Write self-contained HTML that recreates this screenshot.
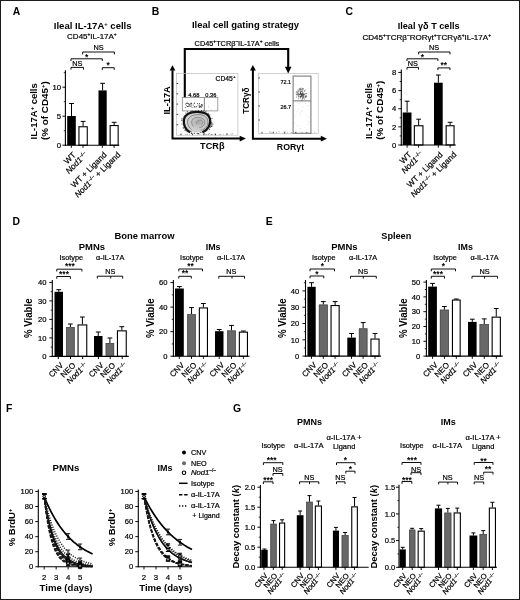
<!DOCTYPE html>
<html><head><meta charset="utf-8"><style>
html,body{margin:0;padding:0;background:#fff;}
svg{display:block;font-family:"Liberation Sans",sans-serif;filter:grayscale(1);}
text:not([font-weight]){stroke:#000;stroke-width:0.2px;}
</style></head><body>
<svg width="520" height="600" viewBox="0 0 520 600" font-family="Liberation Sans, sans-serif">
<rect x="0" y="0" width="520" height="600" fill="#fff"/>
<rect x="0.5" y="0.5" width="519" height="599" fill="none" stroke="#1c1c1c" stroke-width="1"/>
<text x="12.80" y="14.60" font-size="10.4" font-weight="bold" >A</text>
<text x="151.80" y="14.60" font-size="10.4" font-weight="bold" >B</text>
<text x="345.60" y="14.60" font-size="10.4" font-weight="bold" >C</text>
<text x="12.40" y="225.00" font-size="10.4" font-weight="bold" >D</text>
<text x="265.80" y="225.00" font-size="10.4" font-weight="bold" >E</text>
<text x="6.00" y="411.80" font-size="10.4" font-weight="bold" >F</text>
<text x="233.00" y="411.60" font-size="10.4" font-weight="bold" >G</text>
<text x="53.80" y="28.50" font-size="9.3" font-weight="bold" textLength="77.8" lengthAdjust="spacingAndGlyphs" >Ileal IL-17A<tspan font-size="5.6" baseline-shift="3.4">+</tspan> cells</text>
<text x="67.10" y="38.90" font-size="7.6" textLength="49.6" lengthAdjust="spacingAndGlyphs" >CD45<tspan font-size="4.6" baseline-shift="2.8">+</tspan>IL-17A<tspan font-size="4.6" baseline-shift="2.8">+</tspan></text>
<path d="M82.70 54.40V52.00H114.40V54.40" stroke="#000" stroke-width="0.95" fill="none" />
<text x="98.60" y="50.00" font-size="7.3" text-anchor="middle" >NS</text>
<path d="M71.00 61.00V58.80H102.30V61.00" stroke="#000" stroke-width="0.95" fill="none" />
<text x="86.60" y="59.67" font-size="8.4" font-weight="bold" text-anchor="middle" >*</text>
<path d="M71.00 69.60V67.40H83.50V69.60" stroke="#000" stroke-width="0.95" fill="none" />
<text x="77.30" y="66.00" font-size="7.3" text-anchor="middle" >NS</text>
<path d="M102.30 69.90V67.70H114.20V69.90" stroke="#000" stroke-width="0.95" fill="none" />
<text x="108.20" y="68.37" font-size="8.4" font-weight="bold" text-anchor="middle" >*</text>
<line x1="65.40" y1="70.30" x2="65.40" y2="145.75" stroke="#000" stroke-width="1.1" />
<line x1="62.40" y1="145.20" x2="65.40" y2="145.20" stroke="#000" stroke-width="0.95" />
<line x1="62.40" y1="116.20" x2="65.40" y2="116.20" stroke="#000" stroke-width="0.95" />
<line x1="62.40" y1="87.20" x2="65.40" y2="87.20" stroke="#000" stroke-width="0.95" />
<line x1="63.80" y1="130.70" x2="65.40" y2="130.70" stroke="#000" stroke-width="0.8" />
<line x1="63.80" y1="101.70" x2="65.40" y2="101.70" stroke="#000" stroke-width="0.8" />
<line x1="63.80" y1="72.70" x2="65.40" y2="72.70" stroke="#000" stroke-width="0.8" />
<text x="61.10" y="148.01" font-size="7.8" text-anchor="end" >0</text>
<text x="61.10" y="119.01" font-size="7.8" text-anchor="end" >5</text>
<text x="61.10" y="90.01" font-size="7.8" text-anchor="end" >10</text>
<line x1="71.50" y1="116.00" x2="71.50" y2="103.50" stroke="#000" stroke-width="1.0" />
<line x1="69.10" y1="103.50" x2="73.90" y2="103.50" stroke="#000" stroke-width="1.0" />
<rect x="67.20" y="116.00" width="8.60" height="29.20" fill="#000"/>
<line x1="83.10" y1="126.20" x2="83.10" y2="121.40" stroke="#000" stroke-width="1.0" />
<line x1="80.70" y1="121.40" x2="85.50" y2="121.40" stroke="#000" stroke-width="1.0" />
<rect x="78.95" y="126.75" width="8.30" height="18.45" fill="#fff" stroke="#000" stroke-width="1.1"/>
<line x1="102.60" y1="90.40" x2="102.60" y2="83.30" stroke="#000" stroke-width="1.0" />
<line x1="100.20" y1="83.30" x2="105.00" y2="83.30" stroke="#000" stroke-width="1.0" />
<rect x="98.50" y="90.40" width="8.20" height="54.80" fill="#000"/>
<line x1="114.15" y1="125.00" x2="114.15" y2="122.30" stroke="#000" stroke-width="1.0" />
<line x1="111.75" y1="122.30" x2="116.55" y2="122.30" stroke="#000" stroke-width="1.0" />
<rect x="110.15" y="125.55" width="8.00" height="19.65" fill="#fff" stroke="#000" stroke-width="1.1"/>
<line x1="64.85" y1="145.20" x2="119.30" y2="145.20" stroke="#000" stroke-width="1.1" />
<line x1="71.30" y1="145.20" x2="71.30" y2="147.90" stroke="#000" stroke-width="0.95" />
<line x1="83.00" y1="145.20" x2="83.00" y2="147.90" stroke="#000" stroke-width="0.95" />
<line x1="102.30" y1="145.20" x2="102.30" y2="147.90" stroke="#000" stroke-width="0.95" />
<line x1="114.10" y1="145.20" x2="114.10" y2="147.90" stroke="#000" stroke-width="0.95" />
<text x="76.20" y="155.40" font-size="8.2" text-anchor="end" transform="rotate(-45 76.20 155.40)" >WT</text>
<text x="87.90" y="155.40" font-size="8.2" text-anchor="end" transform="rotate(-45 87.90 155.40)" ><tspan font-style="italic">Nod1</tspan><tspan font-size="5.08" baseline-shift="3.44">–/–</tspan></text>
<text x="107.20" y="155.40" font-size="8.2" text-anchor="end" transform="rotate(-45 107.20 155.40)" >WT + Ligand</text>
<text x="120.90" y="155.20" font-size="8.2" text-anchor="end" transform="rotate(-45 120.90 155.20)" ><tspan font-style="italic">Nod1</tspan><tspan font-size="5.08" baseline-shift="3.44">–/–</tspan> + Ligand</text>
<text x="37.20" y="111.30" font-size="9.3" font-weight="bold" text-anchor="middle" transform="rotate(-90 37.20 111.30)" textLength="56.2" lengthAdjust="spacingAndGlyphs" >IL-17A<tspan font-size="5.6" baseline-shift="3.4">+</tspan> cells</text>
<text x="48.50" y="110.60" font-size="9.3" font-weight="bold" text-anchor="middle" transform="rotate(-90 48.50 110.60)" textLength="59.0" lengthAdjust="spacingAndGlyphs" >(% of CD45<tspan font-size="5.6" baseline-shift="3.4">+</tspan>)</text>
<text x="397.70" y="28.60" font-size="9.3" font-weight="bold" textLength="61.9" lengthAdjust="spacingAndGlyphs" >Ileal γδ T cells</text>
<text x="362.40" y="39.50" font-size="7.7" textLength="128.6" lengthAdjust="spacingAndGlyphs" >CD45<tspan font-size="4.6" baseline-shift="2.8">+</tspan>TCRβ<tspan font-size="4.6" baseline-shift="2.8">–</tspan>RORγt<tspan font-size="4.6" baseline-shift="2.8">+</tspan>TCRγδ<tspan font-size="4.6" baseline-shift="2.8">+</tspan>IL-17A<tspan font-size="4.6" baseline-shift="2.8">+</tspan></text>
<path d="M418.70 54.40V52.00H450.00V54.40" stroke="#000" stroke-width="0.95" fill="none" />
<text x="434.00" y="49.80" font-size="7.3" text-anchor="middle" >NS</text>
<path d="M407.00 61.00V58.80H437.90V61.00" stroke="#000" stroke-width="0.95" fill="none" />
<text x="422.50" y="59.67" font-size="8.4" font-weight="bold" text-anchor="middle" >*</text>
<path d="M407.00 69.60V67.40H418.50V69.60" stroke="#000" stroke-width="0.95" fill="none" />
<text x="412.90" y="66.00" font-size="7.3" text-anchor="middle" >NS</text>
<path d="M437.90 70.10V67.90H450.00V70.10" stroke="#000" stroke-width="0.95" fill="none" />
<text x="443.70" y="68.37" font-size="8.4" font-weight="bold" text-anchor="middle" >**</text>
<line x1="401.30" y1="69.60" x2="401.30" y2="145.55" stroke="#000" stroke-width="1.1" />
<line x1="398.30" y1="145.00" x2="401.30" y2="145.00" stroke="#000" stroke-width="0.95" />
<line x1="398.30" y1="126.86" x2="401.30" y2="126.86" stroke="#000" stroke-width="0.95" />
<line x1="398.30" y1="108.72" x2="401.30" y2="108.72" stroke="#000" stroke-width="0.95" />
<line x1="398.30" y1="90.58" x2="401.30" y2="90.58" stroke="#000" stroke-width="0.95" />
<line x1="398.30" y1="72.44" x2="401.30" y2="72.44" stroke="#000" stroke-width="0.95" />
<line x1="399.70" y1="135.93" x2="401.30" y2="135.93" stroke="#000" stroke-width="0.8" />
<line x1="399.70" y1="117.79" x2="401.30" y2="117.79" stroke="#000" stroke-width="0.8" />
<line x1="399.70" y1="99.65" x2="401.30" y2="99.65" stroke="#000" stroke-width="0.8" />
<line x1="399.70" y1="81.51" x2="401.30" y2="81.51" stroke="#000" stroke-width="0.8" />
<text x="396.30" y="147.74" font-size="7.6" text-anchor="end" >0</text>
<text x="396.30" y="129.60" font-size="7.6" text-anchor="end" >2</text>
<text x="396.30" y="111.46" font-size="7.6" text-anchor="end" >4</text>
<text x="396.30" y="93.32" font-size="7.6" text-anchor="end" >6</text>
<text x="396.30" y="75.18" font-size="7.6" text-anchor="end" >8</text>
<line x1="407.10" y1="112.50" x2="407.10" y2="101.20" stroke="#000" stroke-width="1.0" />
<line x1="404.70" y1="101.20" x2="409.50" y2="101.20" stroke="#000" stroke-width="1.0" />
<rect x="402.70" y="112.50" width="8.80" height="32.50" fill="#000"/>
<line x1="418.65" y1="125.20" x2="418.65" y2="119.20" stroke="#000" stroke-width="1.0" />
<line x1="416.25" y1="119.20" x2="421.05" y2="119.20" stroke="#000" stroke-width="1.0" />
<rect x="414.35" y="125.75" width="8.60" height="19.25" fill="#fff" stroke="#000" stroke-width="1.1"/>
<line x1="438.35" y1="82.70" x2="438.35" y2="75.00" stroke="#000" stroke-width="1.0" />
<line x1="435.95" y1="75.00" x2="440.75" y2="75.00" stroke="#000" stroke-width="1.0" />
<rect x="434.00" y="82.70" width="8.70" height="62.30" fill="#000"/>
<line x1="450.10" y1="125.20" x2="450.10" y2="122.30" stroke="#000" stroke-width="1.0" />
<line x1="447.70" y1="122.30" x2="452.50" y2="122.30" stroke="#000" stroke-width="1.0" />
<rect x="446.15" y="125.75" width="7.90" height="19.25" fill="#fff" stroke="#000" stroke-width="1.1"/>
<line x1="400.75" y1="145.00" x2="455.80" y2="145.00" stroke="#000" stroke-width="1.1" />
<line x1="407.10" y1="145.00" x2="407.10" y2="147.70" stroke="#000" stroke-width="0.95" />
<line x1="418.60" y1="145.00" x2="418.60" y2="147.70" stroke="#000" stroke-width="0.95" />
<line x1="438.30" y1="145.00" x2="438.30" y2="147.70" stroke="#000" stroke-width="0.95" />
<line x1="450.10" y1="145.00" x2="450.10" y2="147.70" stroke="#000" stroke-width="0.95" />
<text x="412.00" y="155.20" font-size="8.2" text-anchor="end" transform="rotate(-45 412.00 155.20)" >WT</text>
<text x="423.50" y="155.20" font-size="8.2" text-anchor="end" transform="rotate(-45 423.50 155.20)" ><tspan font-style="italic">Nod1</tspan><tspan font-size="5.08" baseline-shift="3.44">–/–</tspan></text>
<text x="443.20" y="155.20" font-size="8.2" text-anchor="end" transform="rotate(-45 443.20 155.20)" >WT + Ligand</text>
<text x="456.90" y="155.00" font-size="8.2" text-anchor="end" transform="rotate(-45 456.90 155.00)" ><tspan font-style="italic">Nod1</tspan><tspan font-size="5.08" baseline-shift="3.44">–/–</tspan> + Ligand</text>
<text x="372.20" y="111.00" font-size="9.3" font-weight="bold" text-anchor="middle" transform="rotate(-90 372.20 111.00)" textLength="56.2" lengthAdjust="spacingAndGlyphs" >IL-17A<tspan font-size="5.6" baseline-shift="3.4">+</tspan> cells</text>
<text x="383.50" y="110.30" font-size="9.3" font-weight="bold" text-anchor="middle" transform="rotate(-90 383.50 110.30)" textLength="59.0" lengthAdjust="spacingAndGlyphs" >(% of CD45<tspan font-size="5.6" baseline-shift="3.4">+</tspan>)</text>
<text x="191.90" y="28.40" font-size="9.3" font-weight="bold" textLength="107.2" lengthAdjust="spacingAndGlyphs" >Ileal cell gating strategy</text>
<text x="194.60" y="45.60" font-size="7.0" textLength="84.6" lengthAdjust="spacingAndGlyphs" >CD45<tspan font-size="4.6" baseline-shift="2.8">+</tspan>TCRβ<tspan font-size="4.6" baseline-shift="2.8">–</tspan>IL-17A<tspan font-size="4.6" baseline-shift="2.8">+</tspan> cells</text>
<path d="M184.8 97.6V49H288.2V67.5" stroke="#000" stroke-width="2.1" fill="none" stroke-linejoin="miter" stroke-linecap="butt"/>
<path d="M284.9 66.8L291.5 66.8L288.2 73.4Z" stroke="#000" stroke-width="0" fill="#000" />
<path d="M172.5 70.2V138.6H240.9" stroke="#000" stroke-width="2.0" fill="none" stroke-linejoin="miter"/>
<path d="M169.6 70.60000000000001L172.5 65.2L175.4 70.60000000000001Z" stroke="#000" stroke-width="0" fill="#000" />
<path d="M239.70000000000002 135.7L245.9 138.6L239.70000000000002 141.5Z" stroke="#000" stroke-width="0" fill="#000" />
<path d="M252.9 70.0V138.7H322.0" stroke="#000" stroke-width="2.0" fill="none" stroke-linejoin="miter"/>
<path d="M250.0 70.4L252.9 65.0L255.8 70.4Z" stroke="#000" stroke-width="0" fill="#000" />
<path d="M320.8 135.79999999999998L327.0 138.7L320.8 141.6Z" stroke="#000" stroke-width="0" fill="#000" />
<rect x="176.50" y="73.40" width="61.40" height="61.80" fill="none" stroke="#bdbdbd" stroke-width="0.7"/>
<rect x="258.40" y="73.40" width="59.80" height="60.00" fill="none" stroke="#bdbdbd" stroke-width="0.7"/>
<line x1="176.50" y1="83.50" x2="178.20" y2="83.50" stroke="#333" stroke-width="0.9" />
<line x1="258.40" y1="78.00" x2="260.00" y2="78.00" stroke="#333" stroke-width="0.9" />
<line x1="176.50" y1="93.80" x2="178.20" y2="93.80" stroke="#333" stroke-width="0.9" />
<line x1="258.40" y1="92.00" x2="260.00" y2="92.00" stroke="#333" stroke-width="0.9" />
<line x1="176.50" y1="104.10" x2="178.20" y2="104.10" stroke="#333" stroke-width="0.9" />
<line x1="258.40" y1="106.00" x2="260.00" y2="106.00" stroke="#333" stroke-width="0.9" />
<line x1="176.50" y1="114.40" x2="178.20" y2="114.40" stroke="#333" stroke-width="0.9" />
<line x1="258.40" y1="120.00" x2="260.00" y2="120.00" stroke="#333" stroke-width="0.9" />
<line x1="176.50" y1="124.70" x2="178.20" y2="124.70" stroke="#333" stroke-width="0.9" />
<line x1="181.00" y1="135.20" x2="181.00" y2="133.60" stroke="#333" stroke-width="0.9" />
<line x1="262.00" y1="133.40" x2="262.00" y2="131.80" stroke="#333" stroke-width="0.9" />
<line x1="192.50" y1="135.20" x2="192.50" y2="133.60" stroke="#333" stroke-width="0.9" />
<line x1="273.20" y1="133.40" x2="273.20" y2="131.80" stroke="#333" stroke-width="0.9" />
<line x1="204.00" y1="135.20" x2="204.00" y2="133.60" stroke="#333" stroke-width="0.9" />
<line x1="284.40" y1="133.40" x2="284.40" y2="131.80" stroke="#333" stroke-width="0.9" />
<line x1="215.50" y1="135.20" x2="215.50" y2="133.60" stroke="#333" stroke-width="0.9" />
<line x1="295.60" y1="133.40" x2="295.60" y2="131.80" stroke="#333" stroke-width="0.9" />
<line x1="227.00" y1="135.20" x2="227.00" y2="133.60" stroke="#333" stroke-width="0.9" />
<line x1="306.80" y1="133.40" x2="306.80" y2="131.80" stroke="#333" stroke-width="0.9" />
<text x="169.90" y="100.40" font-size="9.3" font-weight="bold" text-anchor="middle" transform="rotate(-90 169.90 100.40)" textLength="28.3" lengthAdjust="spacingAndGlyphs" >IL-17A</text>
<text x="212.30" y="149.00" font-size="9.3" font-weight="bold" text-anchor="middle" textLength="24.4" lengthAdjust="spacingAndGlyphs" >TCRβ</text>
<text x="248.60" y="100.70" font-size="9.3" font-weight="bold" text-anchor="middle" transform="rotate(-90 248.60 100.70)" textLength="26.3" lengthAdjust="spacingAndGlyphs" >TCRγδ</text>
<text x="290.50" y="149.70" font-size="9.3" font-weight="bold" text-anchor="middle" textLength="27.3" lengthAdjust="spacingAndGlyphs" >RORγt</text>
<text x="235.40" y="80.80" font-size="6.8" text-anchor="end" textLength="19.8" lengthAdjust="spacingAndGlyphs" >CD45<tspan font-size="4.3" baseline-shift="2.6">+</tspan></text>
<text x="193.80" y="96.50" font-size="5.9" text-anchor="middle" textLength="11.3" lengthAdjust="spacingAndGlyphs" >4.68</text>
<text x="210.80" y="96.50" font-size="5.9" text-anchor="middle" textLength="11.0" lengthAdjust="spacingAndGlyphs" >0.36</text>
<rect x="182.30" y="97.50" width="22.00" height="13.40" fill="none" stroke="#8a8a8a" stroke-width="0.8"/>
<rect x="204.30" y="97.50" width="13.50" height="13.40" fill="none" stroke="#8a8a8a" stroke-width="0.8"/>
<text x="285.70" y="84.10" font-size="5.9" text-anchor="middle" textLength="10.6" lengthAdjust="spacingAndGlyphs" >72.1</text>
<text x="285.70" y="109.00" font-size="5.9" text-anchor="middle" textLength="10.6" lengthAdjust="spacingAndGlyphs" >26.7</text>
<rect x="293.10" y="76.10" width="17.80" height="57.20" fill="none" stroke="#858585" stroke-width="1.2"/>
<line x1="293.10" y1="100.90" x2="310.90" y2="100.90" stroke="#707070" stroke-width="1.0" />
<defs><radialGradient id="bg" cx="0.55" cy="0.5" r="0.6"><stop offset="0" stop-color="#a8a8a8"/><stop offset="0.35" stop-color="#c2c2c2"/><stop offset="1" stop-color="#dcdcdc"/></radialGradient></defs>
<path d="M190.0 132.4C185.3 129.8 183.0 124.2 184.0 119.4C185.0 114.6 189.6 112.0 196.8 111.9C203.8 111.8 208.8 114.0 210.0 118.8C211.3 124.0 208.3 129.6 202.4 132.4" stroke="#111" stroke-width="2.2" fill="url(#bg)" />
<path d="M191.5 129.5C187.5 126.5 186.5 121.5 188.8 118C191 115 196 114.4 199.5 114.6C204.5 115 207.6 117.6 207.9 121.5C208.2 125.8 205.5 129.3 200.8 130.3" stroke="#555" stroke-width="0.6" fill="none" />
<path d="M193.6 126.5C190.8 123.8 191.1 119.6 194.6 118C198.1 116.6 202.8 117.6 204.4 120.5C205.6 123.5 203.5 127 199.4 127.6" stroke="#666" stroke-width="0.6" fill="none" />
<path d="M196.5 123.8C196 121.5 198.2 119.8 201 120.3C203.5 121 203.5 123.6 201 124.6" stroke="#777" stroke-width="0.6" fill="none" />
<circle cx="191.0" cy="131.7" r="0.5" fill="#222"/>
<circle cx="189.3" cy="113.3" r="0.5" fill="#222"/>
<circle cx="183.1" cy="119.5" r="0.5" fill="#222"/>
<circle cx="211.1" cy="126.2" r="0.5" fill="#222"/>
<circle cx="211.5" cy="124.7" r="0.5" fill="#222"/>
<circle cx="209.6" cy="126.6" r="0.5" fill="#222"/>
<circle cx="183.1" cy="127.7" r="0.5" fill="#222"/>
<circle cx="207.2" cy="129.7" r="0.5" fill="#222"/>
<circle cx="185.9" cy="112.9" r="0.5" fill="#222"/>
<circle cx="184.3" cy="116.7" r="0.5" fill="#222"/>
<circle cx="210.6" cy="120.4" r="0.5" fill="#222"/>
<circle cx="206.2" cy="113.3" r="0.5" fill="#222"/>
<circle cx="205.7" cy="130.5" r="0.5" fill="#222"/>
<circle cx="191.5" cy="133.6" r="0.5" fill="#222"/>
<circle cx="203.6" cy="132.7" r="0.5" fill="#222"/>
<circle cx="187.9" cy="113.3" r="0.5" fill="#222"/>
<circle cx="184.2" cy="118.9" r="0.5" fill="#222"/>
<circle cx="210.2" cy="126.0" r="0.5" fill="#222"/>
<circle cx="191.0" cy="111.6" r="0.5" fill="#222"/>
<circle cx="191.3" cy="132.9" r="0.5" fill="#222"/>
<circle cx="183.5" cy="125.2" r="0.5" fill="#222"/>
<circle cx="201.5" cy="110.4" r="0.5" fill="#222"/>
<circle cx="197.8" cy="133.8" r="0.5" fill="#222"/>
<circle cx="181.4" cy="120.0" r="0.5" fill="#222"/>
<circle cx="195.4" cy="110.9" r="0.5" fill="#222"/>
<circle cx="210.8" cy="120.7" r="0.5" fill="#222"/>
<circle cx="183.6" cy="128.0" r="0.5" fill="#222"/>
<circle cx="205.8" cy="131.5" r="0.5" fill="#222"/>
<circle cx="212.1" cy="124.9" r="0.5" fill="#222"/>
<circle cx="198.6" cy="110.2" r="0.5" fill="#222"/>
<circle cx="207.4" cy="114.1" r="0.5" fill="#222"/>
<circle cx="192.1" cy="110.8" r="0.5" fill="#222"/>
<circle cx="184.3" cy="116.4" r="0.5" fill="#222"/>
<circle cx="205.9" cy="111.3" r="0.5" fill="#222"/>
<circle cx="182.0" cy="123.9" r="0.5" fill="#222"/>
<circle cx="211.6" cy="126.5" r="0.5" fill="#222"/>
<circle cx="187.4" cy="111.8" r="0.5" fill="#222"/>
<circle cx="203.4" cy="112.0" r="0.5" fill="#222"/>
<circle cx="185.6" cy="129.9" r="0.5" fill="#222"/>
<circle cx="211.8" cy="123.6" r="0.5" fill="#222"/>
<circle cx="204.0" cy="131.4" r="0.5" fill="#222"/>
<circle cx="211.8" cy="126.4" r="0.5" fill="#222"/>
<circle cx="206.9" cy="130.0" r="0.5" fill="#222"/>
<circle cx="184.8" cy="129.9" r="0.5" fill="#222"/>
<circle cx="210.1" cy="127.6" r="0.5" fill="#222"/>
<circle cx="182.0" cy="118.2" r="0.5" fill="#222"/>
<circle cx="203.9" cy="110.7" r="0.5" fill="#222"/>
<circle cx="194.6" cy="133.3" r="0.5" fill="#222"/>
<circle cx="187.1" cy="131.7" r="0.5" fill="#222"/>
<circle cx="210.6" cy="119.2" r="0.5" fill="#222"/>
<circle cx="203.5" cy="131.9" r="0.5" fill="#222"/>
<circle cx="198.7" cy="133.6" r="0.5" fill="#222"/>
<circle cx="185.2" cy="116.1" r="0.5" fill="#222"/>
<circle cx="211.8" cy="122.3" r="0.5" fill="#222"/>
<circle cx="186.9" cy="130.6" r="0.5" fill="#222"/>
<circle cx="212.0" cy="118.5" r="0.5" fill="#222"/>
<circle cx="182.1" cy="120.8" r="0.5" fill="#222"/>
<circle cx="191.1" cy="112.5" r="0.5" fill="#222"/>
<circle cx="209.9" cy="114.7" r="0.5" fill="#222"/>
<circle cx="208.3" cy="113.2" r="0.5" fill="#222"/>
<circle cx="185.8" cy="129.1" r="0.5" fill="#222"/>
<circle cx="209.4" cy="129.2" r="0.5" fill="#222"/>
<circle cx="209.8" cy="126.1" r="0.5" fill="#222"/>
<circle cx="200.8" cy="132.5" r="0.5" fill="#222"/>
<circle cx="189.9" cy="131.0" r="0.5" fill="#222"/>
<circle cx="211.0" cy="122.0" r="0.5" fill="#222"/>
<circle cx="208.8" cy="128.7" r="0.5" fill="#222"/>
<circle cx="213.0" cy="124.0" r="0.5" fill="#222"/>
<circle cx="186.8" cy="114.9" r="0.5" fill="#222"/>
<circle cx="197.0" cy="133.3" r="0.5" fill="#222"/>
<circle cx="191.4" cy="103.4" r="0.5" fill="#333"/>
<circle cx="199.9" cy="107.4" r="0.5" fill="#333"/>
<circle cx="193.2" cy="105.0" r="0.5" fill="#333"/>
<circle cx="186.5" cy="103.3" r="0.5" fill="#333"/>
<circle cx="191.0" cy="104.0" r="0.5" fill="#333"/>
<circle cx="199.5" cy="103.5" r="0.5" fill="#333"/>
<circle cx="185.4" cy="107.2" r="0.5" fill="#333"/>
<circle cx="194.2" cy="103.5" r="0.5" fill="#333"/>
<circle cx="194.5" cy="102.9" r="0.5" fill="#333"/>
<circle cx="194.2" cy="107.3" r="0.5" fill="#333"/>
<circle cx="200.1" cy="106.0" r="0.5" fill="#333"/>
<circle cx="189.6" cy="104.5" r="0.5" fill="#333"/>
<circle cx="187.9" cy="106.4" r="0.5" fill="#333"/>
<circle cx="194.3" cy="106.4" r="0.5" fill="#333"/>
<circle cx="190.8" cy="103.8" r="0.5" fill="#333"/>
<circle cx="199.2" cy="107.3" r="0.5" fill="#333"/>
<circle cx="199.9" cy="106.5" r="0.5" fill="#333"/>
<circle cx="199.3" cy="106.2" r="0.5" fill="#333"/>
<circle cx="189.0" cy="105.2" r="0.5" fill="#333"/>
<circle cx="191.2" cy="102.9" r="0.5" fill="#333"/>
<circle cx="185.5" cy="104.1" r="0.5" fill="#333"/>
<circle cx="189.5" cy="106.0" r="0.5" fill="#333"/>
<circle cx="201.7" cy="104.9" r="0.5" fill="#333"/>
<circle cx="201.4" cy="107.3" r="0.5" fill="#333"/>
<circle cx="201.7" cy="104.5" r="0.5" fill="#333"/>
<circle cx="188.9" cy="103.8" r="0.5" fill="#333"/>
<circle cx="188.4" cy="103.7" r="0.5" fill="#333"/>
<circle cx="195.9" cy="106.9" r="0.5" fill="#333"/>
<circle cx="199.7" cy="105.0" r="0.5" fill="#333"/>
<circle cx="196.4" cy="106.5" r="0.5" fill="#333"/>
<circle cx="186.5" cy="105.8" r="0.5" fill="#333"/>
<circle cx="200.9" cy="106.4" r="0.5" fill="#333"/>
<circle cx="198.1" cy="105.0" r="0.5" fill="#333"/>
<circle cx="188.1" cy="106.4" r="0.5" fill="#333"/>
<circle cx="190.8" cy="106.5" r="0.5" fill="#333"/>
<circle cx="202.0" cy="104.6" r="0.5" fill="#333"/>
<circle cx="192.0" cy="107.2" r="0.5" fill="#333"/>
<circle cx="197.7" cy="103.6" r="0.5" fill="#333"/>
<circle cx="187.2" cy="103.5" r="0.5" fill="#333"/>
<circle cx="200.8" cy="106.5" r="0.5" fill="#333"/>
<circle cx="187.6" cy="106.6" r="0.5" fill="#333"/>
<circle cx="202.2" cy="105.8" r="0.5" fill="#333"/>
<circle cx="191.1" cy="105.3" r="0.5" fill="#333"/>
<circle cx="187.3" cy="102.9" r="0.5" fill="#333"/>
<circle cx="202.0" cy="105.8" r="0.5" fill="#333"/>
<circle cx="211.3" cy="109.6" r="0.4" fill="#bbb"/>
<circle cx="210.3" cy="109.2" r="0.4" fill="#bbb"/>
<circle cx="214.3" cy="105.3" r="0.4" fill="#bbb"/>
<circle cx="208.5" cy="105.8" r="0.4" fill="#bbb"/>
<circle cx="208.4" cy="107.5" r="0.4" fill="#bbb"/>
<circle cx="208.6" cy="106.5" r="0.4" fill="#bbb"/>
<circle cx="187.3" cy="134.6" r="0.45" fill="#555"/>
<circle cx="199.8" cy="134.0" r="0.45" fill="#555"/>
<circle cx="212.7" cy="134.6" r="0.45" fill="#555"/>
<circle cx="203.6" cy="134.6" r="0.45" fill="#555"/>
<circle cx="208.1" cy="134.1" r="0.45" fill="#555"/>
<circle cx="209.3" cy="133.5" r="0.45" fill="#555"/>
<circle cx="204.6" cy="133.7" r="0.45" fill="#555"/>
<circle cx="180.2" cy="134.5" r="0.45" fill="#555"/>
<circle cx="189.7" cy="134.1" r="0.45" fill="#555"/>
<circle cx="220.6" cy="134.2" r="0.45" fill="#555"/>
<circle cx="198.3" cy="134.1" r="0.45" fill="#555"/>
<circle cx="211.1" cy="134.4" r="0.45" fill="#555"/>
<circle cx="185.9" cy="134.2" r="0.45" fill="#555"/>
<circle cx="193.9" cy="133.8" r="0.45" fill="#555"/>
<circle cx="223.2" cy="134.1" r="0.45" fill="#555"/>
<circle cx="211.5" cy="134.4" r="0.45" fill="#555"/>
<circle cx="231.1" cy="134.0" r="0.45" fill="#555"/>
<circle cx="214.3" cy="134.1" r="0.45" fill="#555"/>
<circle cx="208.7" cy="134.3" r="0.45" fill="#555"/>
<circle cx="205.3" cy="134.1" r="0.45" fill="#555"/>
<circle cx="206.8" cy="134.6" r="0.45" fill="#555"/>
<circle cx="219.2" cy="134.6" r="0.45" fill="#555"/>
<circle cx="232.8" cy="133.8" r="0.45" fill="#555"/>
<circle cx="211.3" cy="134.6" r="0.45" fill="#555"/>
<circle cx="227.0" cy="133.7" r="0.45" fill="#555"/>
<circle cx="303.8" cy="96.8" r="0.5" fill="#777"/>
<circle cx="303.4" cy="95.4" r="0.5" fill="#333"/>
<circle cx="305.2" cy="96.4" r="0.5" fill="#777"/>
<circle cx="302.4" cy="88.5" r="0.5" fill="#777"/>
<circle cx="303.9" cy="98.4" r="0.5" fill="#777"/>
<circle cx="300.4" cy="92.6" r="0.5" fill="#333"/>
<circle cx="305.4" cy="90.1" r="0.5" fill="#777"/>
<circle cx="302.3" cy="100.1" r="0.5" fill="#777"/>
<circle cx="298.4" cy="96.6" r="0.5" fill="#777"/>
<circle cx="306.3" cy="93.8" r="0.5" fill="#777"/>
<circle cx="303.1" cy="97.4" r="0.5" fill="#777"/>
<circle cx="298.4" cy="93.9" r="0.5" fill="#777"/>
<circle cx="302.2" cy="97.1" r="0.5" fill="#777"/>
<circle cx="301.2" cy="93.6" r="0.5" fill="#333"/>
<circle cx="298.1" cy="92.9" r="0.5" fill="#777"/>
<circle cx="304.2" cy="94.6" r="0.5" fill="#777"/>
<circle cx="298.6" cy="91.3" r="0.5" fill="#777"/>
<circle cx="306.4" cy="96.6" r="0.5" fill="#777"/>
<circle cx="302.6" cy="88.3" r="0.5" fill="#777"/>
<circle cx="303.3" cy="95.9" r="0.5" fill="#777"/>
<circle cx="306.0" cy="95.5" r="0.5" fill="#777"/>
<circle cx="301.1" cy="96.0" r="0.5" fill="#333"/>
<circle cx="296.6" cy="97.0" r="0.5" fill="#777"/>
<circle cx="302.3" cy="91.7" r="0.5" fill="#333"/>
<circle cx="304.4" cy="99.0" r="0.5" fill="#777"/>
<circle cx="297.2" cy="92.1" r="0.5" fill="#777"/>
<circle cx="302.2" cy="94.8" r="0.5" fill="#333"/>
<circle cx="300.0" cy="90.8" r="0.5" fill="#777"/>
<circle cx="306.1" cy="96.8" r="0.5" fill="#777"/>
<circle cx="298.0" cy="90.1" r="0.5" fill="#777"/>
<circle cx="305.7" cy="97.0" r="0.5" fill="#777"/>
<circle cx="306.0" cy="96.5" r="0.5" fill="#777"/>
<circle cx="298.5" cy="95.1" r="0.5" fill="#777"/>
<circle cx="296.2" cy="92.3" r="0.5" fill="#777"/>
<circle cx="301.1" cy="96.0" r="0.5" fill="#333"/>
<circle cx="299.0" cy="93.8" r="0.5" fill="#333"/>
<circle cx="302.7" cy="95.5" r="0.5" fill="#333"/>
<circle cx="303.3" cy="94.9" r="0.5" fill="#333"/>
<circle cx="300.3" cy="97.0" r="0.5" fill="#777"/>
<circle cx="301.5" cy="91.3" r="0.5" fill="#777"/>
<circle cx="299.3" cy="94.2" r="0.5" fill="#333"/>
<circle cx="301.0" cy="94.7" r="0.5" fill="#333"/>
<circle cx="301.3" cy="94.7" r="0.5" fill="#333"/>
<circle cx="300.9" cy="89.9" r="0.5" fill="#777"/>
<circle cx="302.6" cy="97.9" r="0.5" fill="#777"/>
<circle cx="302.6" cy="93.6" r="0.5" fill="#333"/>
<circle cx="302.7" cy="90.8" r="0.5" fill="#777"/>
<circle cx="296.3" cy="94.4" r="0.5" fill="#777"/>
<circle cx="298.4" cy="96.8" r="0.5" fill="#777"/>
<circle cx="299.2" cy="88.5" r="0.5" fill="#777"/>
<circle cx="298.5" cy="98.8" r="0.5" fill="#777"/>
<circle cx="300.2" cy="89.6" r="0.5" fill="#777"/>
<circle cx="298.8" cy="96.1" r="0.5" fill="#777"/>
<circle cx="302.8" cy="94.8" r="0.5" fill="#333"/>
<circle cx="305.5" cy="96.4" r="0.5" fill="#777"/>
<circle cx="301.2" cy="96.3" r="0.5" fill="#333"/>
<circle cx="305.7" cy="97.0" r="0.5" fill="#777"/>
<circle cx="304.3" cy="90.7" r="0.5" fill="#777"/>
<circle cx="300.8" cy="96.8" r="0.5" fill="#333"/>
<circle cx="300.4" cy="97.9" r="0.5" fill="#777"/>
<circle cx="303.2" cy="97.4" r="0.5" fill="#777"/>
<circle cx="300.8" cy="100.2" r="0.5" fill="#777"/>
<circle cx="305.1" cy="93.5" r="0.5" fill="#777"/>
<circle cx="301.5" cy="100.3" r="0.5" fill="#777"/>
<circle cx="300.2" cy="97.3" r="0.5" fill="#777"/>
<circle cx="304.4" cy="94.2" r="0.5" fill="#777"/>
<circle cx="297.6" cy="94.9" r="0.5" fill="#777"/>
<circle cx="302.4" cy="98.1" r="0.5" fill="#777"/>
<circle cx="303.8" cy="94.3" r="0.5" fill="#333"/>
<circle cx="304.0" cy="96.1" r="0.5" fill="#777"/>
<circle cx="301.9" cy="94.4" r="0.5" fill="#333"/>
<circle cx="300.5" cy="96.6" r="0.5" fill="#333"/>
<circle cx="298.0" cy="92.0" r="0.5" fill="#777"/>
<circle cx="301.3" cy="89.4" r="0.5" fill="#777"/>
<circle cx="300.2" cy="88.6" r="0.5" fill="#777"/>
<circle cx="299.1" cy="96.2" r="0.5" fill="#777"/>
<circle cx="303.1" cy="94.0" r="0.5" fill="#333"/>
<circle cx="300.6" cy="89.5" r="0.5" fill="#777"/>
<circle cx="306.1" cy="95.7" r="0.5" fill="#777"/>
<circle cx="304.6" cy="91.3" r="0.5" fill="#777"/>
<circle cx="300.8" cy="88.8" r="0.5" fill="#777"/>
<circle cx="303.7" cy="97.4" r="0.5" fill="#777"/>
<circle cx="296.3" cy="94.0" r="0.5" fill="#777"/>
<circle cx="303.0" cy="89.0" r="0.5" fill="#777"/>
<circle cx="296.8" cy="91.3" r="0.5" fill="#777"/>
<circle cx="299.5" cy="89.7" r="0.5" fill="#777"/>
<circle cx="301.4" cy="95.0" r="0.5" fill="#333"/>
<circle cx="303.3" cy="96.7" r="0.5" fill="#777"/>
<circle cx="305.3" cy="97.6" r="0.5" fill="#777"/>
<circle cx="297.3" cy="92.5" r="0.5" fill="#777"/>
<circle cx="298.2" cy="90.7" r="0.5" fill="#777"/>
<circle cx="301.1" cy="94.2" r="0.5" fill="#333"/>
<circle cx="302.7" cy="89.2" r="0.5" fill="#777"/>
<circle cx="297.5" cy="94.1" r="0.5" fill="#777"/>
<circle cx="300.7" cy="93.2" r="0.5" fill="#333"/>
<circle cx="301.1" cy="91.5" r="0.5" fill="#333"/>
<circle cx="303.6" cy="95.5" r="0.5" fill="#777"/>
<circle cx="301.0" cy="91.8" r="0.5" fill="#333"/>
<circle cx="300.9" cy="88.1" r="0.5" fill="#777"/>
<circle cx="298.2" cy="94.3" r="0.5" fill="#777"/>
<circle cx="296.9" cy="94.8" r="0.5" fill="#777"/>
<circle cx="301.7" cy="89.6" r="0.5" fill="#777"/>
<circle cx="300.5" cy="93.2" r="0.5" fill="#333"/>
<circle cx="302.8" cy="96.4" r="0.5" fill="#333"/>
<circle cx="301.2" cy="91.2" r="0.5" fill="#777"/>
<circle cx="300.9" cy="94.0" r="0.5" fill="#333"/>
<circle cx="303.7" cy="95.2" r="0.5" fill="#777"/>
<circle cx="299.2" cy="89.8" r="0.5" fill="#777"/>
<circle cx="300.1" cy="91.6" r="0.5" fill="#777"/>
<circle cx="297.8" cy="93.8" r="0.5" fill="#777"/>
<circle cx="299.8" cy="94.6" r="0.5" fill="#333"/>
<circle cx="303.0" cy="92.7" r="0.5" fill="#333"/>
<circle cx="306.6" cy="93.4" r="0.5" fill="#777"/>
<circle cx="304.8" cy="94.6" r="0.5" fill="#777"/>
<circle cx="303.6" cy="88.7" r="0.5" fill="#777"/>
<circle cx="298.9" cy="95.1" r="0.5" fill="#777"/>
<circle cx="302.7" cy="100.0" r="0.5" fill="#777"/>
<circle cx="302.3" cy="98.5" r="0.5" fill="#777"/>
<circle cx="303.7" cy="97.5" r="0.5" fill="#777"/>
<circle cx="302.9" cy="93.7" r="0.5" fill="#333"/>
<circle cx="307.3" cy="116.2" r="0.45" fill="#d4d4d4"/>
<circle cx="308.3" cy="121.7" r="0.45" fill="#d4d4d4"/>
<circle cx="298.5" cy="127.1" r="0.45" fill="#d4d4d4"/>
<circle cx="302.3" cy="102.7" r="0.45" fill="#d4d4d4"/>
<circle cx="295.1" cy="115.8" r="0.45" fill="#d4d4d4"/>
<circle cx="301.8" cy="110.5" r="0.45" fill="#d4d4d4"/>
<circle cx="297.1" cy="111.6" r="0.45" fill="#d4d4d4"/>
<circle cx="299.7" cy="125.5" r="0.45" fill="#d4d4d4"/>
<circle cx="295.0" cy="123.0" r="0.45" fill="#d4d4d4"/>
<circle cx="307.6" cy="105.4" r="0.45" fill="#d4d4d4"/>
<circle cx="308.9" cy="122.0" r="0.45" fill="#d4d4d4"/>
<circle cx="308.5" cy="110.1" r="0.45" fill="#d4d4d4"/>
<circle cx="300.6" cy="113.0" r="0.45" fill="#d4d4d4"/>
<circle cx="310.0" cy="118.5" r="0.45" fill="#d4d4d4"/>
<circle cx="300.4" cy="114.0" r="0.45" fill="#d4d4d4"/>
<circle cx="299.1" cy="103.4" r="0.45" fill="#d4d4d4"/>
<circle cx="296.5" cy="125.4" r="0.45" fill="#d4d4d4"/>
<circle cx="299.3" cy="128.2" r="0.45" fill="#d4d4d4"/>
<circle cx="298.7" cy="109.4" r="0.45" fill="#d4d4d4"/>
<circle cx="302.7" cy="107.3" r="0.45" fill="#d4d4d4"/>
<circle cx="300.6" cy="128.8" r="0.45" fill="#d4d4d4"/>
<circle cx="308.3" cy="124.7" r="0.45" fill="#d4d4d4"/>
<circle cx="304.5" cy="127.6" r="0.45" fill="#d4d4d4"/>
<circle cx="309.1" cy="117.4" r="0.45" fill="#d4d4d4"/>
<circle cx="305.8" cy="103.4" r="0.45" fill="#d4d4d4"/>
<circle cx="306.0" cy="114.6" r="0.45" fill="#d4d4d4"/>
<circle cx="306.3" cy="120.0" r="0.45" fill="#d4d4d4"/>
<circle cx="299.3" cy="103.4" r="0.45" fill="#d4d4d4"/>
<circle cx="308.9" cy="105.6" r="0.45" fill="#d4d4d4"/>
<circle cx="302.1" cy="111.6" r="0.45" fill="#d4d4d4"/>
<circle cx="276.7" cy="132.7" r="0.45" fill="#666"/>
<circle cx="314.7" cy="132.1" r="0.45" fill="#666"/>
<circle cx="296.7" cy="132.2" r="0.45" fill="#666"/>
<circle cx="291.2" cy="132.3" r="0.45" fill="#666"/>
<circle cx="269.4" cy="132.0" r="0.45" fill="#666"/>
<circle cx="271.6" cy="132.9" r="0.45" fill="#666"/>
<circle cx="287.8" cy="132.1" r="0.45" fill="#666"/>
<circle cx="310.8" cy="133.0" r="0.45" fill="#666"/>
<circle cx="285.2" cy="132.0" r="0.45" fill="#666"/>
<circle cx="270.8" cy="131.9" r="0.45" fill="#666"/>
<circle cx="279.1" cy="131.9" r="0.45" fill="#666"/>
<circle cx="273.4" cy="132.1" r="0.45" fill="#666"/>
<circle cx="291.9" cy="132.9" r="0.45" fill="#666"/>
<circle cx="302.0" cy="132.3" r="0.45" fill="#666"/>
<text x="144.50" y="238.50" font-size="9.3" font-weight="bold" text-anchor="middle" textLength="60.2" lengthAdjust="spacingAndGlyphs" >Bone marrow</text>
<text x="91.90" y="249.80" font-size="9.3" font-weight="bold" text-anchor="middle" textLength="26.3" lengthAdjust="spacingAndGlyphs" >PMNs</text>
<text x="71.30" y="259.80" font-size="7.3" text-anchor="middle" textLength="23.6" lengthAdjust="spacingAndGlyphs" >Isotype</text>
<text x="110.20" y="259.80" font-size="7.3" text-anchor="middle" textLength="28.2" lengthAdjust="spacingAndGlyphs" >α-IL-17A</text>
<path d="M56.80 271.50V269.20H81.90V271.50" stroke="#000" stroke-width="0.95" fill="none" />
<text x="69.80" y="269.47" font-size="8.4" font-weight="bold" text-anchor="middle" >***</text>
<path d="M56.80 278.80V276.50H70.40V278.80" stroke="#000" stroke-width="0.95" fill="none" />
<text x="64.00" y="277.17" font-size="8.4" font-weight="bold" text-anchor="middle" >***</text>
<path d="M97.30 278.50V276.20H122.70V278.50M110.70 276.20V278.50" stroke="#000" stroke-width="0.95" fill="none" />
<text x="110.20" y="273.80" font-size="7.3" text-anchor="middle" >NS</text>
<line x1="52.30" y1="280.00" x2="52.30" y2="356.95" stroke="#000" stroke-width="1.1" />
<line x1="49.30" y1="356.40" x2="52.30" y2="356.40" stroke="#000" stroke-width="0.95" />
<line x1="49.30" y1="337.90" x2="52.30" y2="337.90" stroke="#000" stroke-width="0.95" />
<line x1="49.30" y1="319.40" x2="52.30" y2="319.40" stroke="#000" stroke-width="0.95" />
<line x1="49.30" y1="300.90" x2="52.30" y2="300.90" stroke="#000" stroke-width="0.95" />
<line x1="49.30" y1="282.40" x2="52.30" y2="282.40" stroke="#000" stroke-width="0.95" />
<line x1="50.70" y1="347.15" x2="52.30" y2="347.15" stroke="#000" stroke-width="0.8" />
<line x1="50.70" y1="328.65" x2="52.30" y2="328.65" stroke="#000" stroke-width="0.8" />
<line x1="50.70" y1="310.15" x2="52.30" y2="310.15" stroke="#000" stroke-width="0.8" />
<line x1="50.70" y1="291.65" x2="52.30" y2="291.65" stroke="#000" stroke-width="0.8" />
<text x="46.40" y="359.14" font-size="7.6" text-anchor="end" >0</text>
<text x="46.40" y="340.64" font-size="7.6" text-anchor="end" >10</text>
<text x="46.40" y="322.14" font-size="7.6" text-anchor="end" >20</text>
<text x="46.40" y="303.64" font-size="7.6" text-anchor="end" >30</text>
<text x="46.40" y="285.14" font-size="7.6" text-anchor="end" >40</text>
<line x1="58.75" y1="291.80" x2="58.75" y2="289.70" stroke="#000" stroke-width="1.0" />
<line x1="56.35" y1="289.70" x2="61.15" y2="289.70" stroke="#000" stroke-width="1.0" />
<rect x="54.50" y="291.80" width="8.50" height="64.60" fill="#000"/>
<line x1="70.35" y1="327.10" x2="70.35" y2="324.00" stroke="#000" stroke-width="1.0" />
<line x1="67.95" y1="324.00" x2="72.75" y2="324.00" stroke="#000" stroke-width="1.0" />
<rect x="66.10" y="327.10" width="8.50" height="29.30" fill="#686868"/>
<rect x="66.45" y="327.45" width="7.80" height="28.95" fill="none" stroke="#4a4a4a" stroke-width="0.7"/>
<line x1="82.40" y1="324.40" x2="82.40" y2="317.00" stroke="#000" stroke-width="1.0" />
<line x1="80.00" y1="317.00" x2="84.80" y2="317.00" stroke="#000" stroke-width="1.0" />
<rect x="78.05" y="324.95" width="8.70" height="31.45" fill="#fff" stroke="#000" stroke-width="1.1"/>
<line x1="98.25" y1="336.00" x2="98.25" y2="332.00" stroke="#000" stroke-width="1.0" />
<line x1="95.85" y1="332.00" x2="100.65" y2="332.00" stroke="#000" stroke-width="1.0" />
<rect x="94.00" y="336.00" width="8.50" height="20.40" fill="#000"/>
<line x1="109.90" y1="343.00" x2="109.90" y2="338.00" stroke="#000" stroke-width="1.0" />
<line x1="107.50" y1="338.00" x2="112.30" y2="338.00" stroke="#000" stroke-width="1.0" />
<rect x="105.70" y="343.00" width="8.40" height="13.40" fill="#686868"/>
<rect x="106.05" y="343.35" width="7.70" height="13.05" fill="none" stroke="#4a4a4a" stroke-width="0.7"/>
<line x1="121.85" y1="330.30" x2="121.85" y2="326.70" stroke="#000" stroke-width="1.0" />
<line x1="119.45" y1="326.70" x2="124.25" y2="326.70" stroke="#000" stroke-width="1.0" />
<rect x="117.45" y="330.85" width="8.80" height="25.55" fill="#fff" stroke="#000" stroke-width="1.1"/>
<line x1="51.75" y1="356.40" x2="128.80" y2="356.40" stroke="#000" stroke-width="1.1" />
<line x1="58.30" y1="356.40" x2="58.30" y2="359.10" stroke="#000" stroke-width="0.95" />
<line x1="70.50" y1="356.40" x2="70.50" y2="359.10" stroke="#000" stroke-width="0.95" />
<line x1="82.60" y1="356.40" x2="82.60" y2="359.10" stroke="#000" stroke-width="0.95" />
<line x1="98.40" y1="356.40" x2="98.40" y2="359.10" stroke="#000" stroke-width="0.95" />
<line x1="110.20" y1="356.40" x2="110.20" y2="359.10" stroke="#000" stroke-width="0.95" />
<line x1="122.20" y1="356.40" x2="122.20" y2="359.10" stroke="#000" stroke-width="0.95" />
<text x="63.90" y="365.80" font-size="8.0" text-anchor="end" transform="rotate(-45 63.90 365.80)" >CNV</text>
<text x="76.10" y="365.80" font-size="8.0" text-anchor="end" transform="rotate(-45 76.10 365.80)" >NEO</text>
<text x="88.20" y="365.80" font-size="8.0" text-anchor="end" transform="rotate(-45 88.20 365.80)" ><tspan font-style="italic">Nod1</tspan><tspan font-size="4.96" baseline-shift="3.36">–/–</tspan></text>
<text x="104.00" y="365.80" font-size="8.0" text-anchor="end" transform="rotate(-45 104.00 365.80)" >CNV</text>
<text x="115.80" y="365.80" font-size="8.0" text-anchor="end" transform="rotate(-45 115.80 365.80)" >NEO</text>
<text x="127.80" y="365.80" font-size="8.0" text-anchor="end" transform="rotate(-45 127.80 365.80)" ><tspan font-style="italic">Nod1</tspan><tspan font-size="4.96" baseline-shift="3.36">–/–</tspan></text>
<text x="32.40" y="318.20" font-size="10.2" font-weight="bold" text-anchor="middle" transform="rotate(-90 32.40 318.20)" textLength="39.6" lengthAdjust="spacingAndGlyphs" >% Viable</text>
<text x="213.10" y="249.80" font-size="9.3" font-weight="bold" text-anchor="middle" textLength="14.8" lengthAdjust="spacingAndGlyphs" >IMs</text>
<text x="191.90" y="259.80" font-size="7.3" text-anchor="middle" textLength="23.6" lengthAdjust="spacingAndGlyphs" >Isotype</text>
<text x="231.00" y="259.80" font-size="7.3" text-anchor="middle" textLength="28.2" lengthAdjust="spacingAndGlyphs" >α-IL-17A</text>
<path d="M178.80 271.30V269.00H202.50V271.30" stroke="#000" stroke-width="0.95" fill="none" />
<text x="190.60" y="269.27" font-size="8.4" font-weight="bold" text-anchor="middle" >**</text>
<path d="M178.80 278.60V276.30H191.30V278.60" stroke="#000" stroke-width="0.95" fill="none" />
<text x="185.00" y="276.37" font-size="8.4" font-weight="bold" text-anchor="middle" >**</text>
<path d="M218.80 278.60V276.30H244.50V278.60M232.00 276.30V278.60" stroke="#000" stroke-width="0.95" fill="none" />
<text x="231.30" y="273.80" font-size="7.3" text-anchor="middle" >NS</text>
<line x1="173.40" y1="279.90" x2="173.40" y2="356.75" stroke="#000" stroke-width="1.1" />
<line x1="170.40" y1="356.20" x2="173.40" y2="356.20" stroke="#000" stroke-width="0.95" />
<line x1="170.40" y1="331.66" x2="173.40" y2="331.66" stroke="#000" stroke-width="0.95" />
<line x1="170.40" y1="307.12" x2="173.40" y2="307.12" stroke="#000" stroke-width="0.95" />
<line x1="170.40" y1="282.58" x2="173.40" y2="282.58" stroke="#000" stroke-width="0.95" />
<line x1="171.80" y1="343.93" x2="173.40" y2="343.93" stroke="#000" stroke-width="0.8" />
<line x1="171.80" y1="319.39" x2="173.40" y2="319.39" stroke="#000" stroke-width="0.8" />
<line x1="171.80" y1="294.85" x2="173.40" y2="294.85" stroke="#000" stroke-width="0.8" />
<text x="167.40" y="358.94" font-size="7.6" text-anchor="end" >0</text>
<text x="167.40" y="334.40" font-size="7.6" text-anchor="end" >20</text>
<text x="167.40" y="309.86" font-size="7.6" text-anchor="end" >40</text>
<text x="167.40" y="285.32" font-size="7.6" text-anchor="end" >60</text>
<line x1="179.40" y1="288.50" x2="179.40" y2="286.60" stroke="#000" stroke-width="1.0" />
<line x1="177.00" y1="286.60" x2="181.80" y2="286.60" stroke="#000" stroke-width="1.0" />
<rect x="175.00" y="288.50" width="8.80" height="67.70" fill="#000"/>
<line x1="191.55" y1="314.30" x2="191.55" y2="307.60" stroke="#000" stroke-width="1.0" />
<line x1="189.15" y1="307.60" x2="193.95" y2="307.60" stroke="#000" stroke-width="1.0" />
<rect x="187.30" y="314.30" width="8.50" height="41.90" fill="#686868"/>
<rect x="187.65" y="314.65" width="7.80" height="41.55" fill="none" stroke="#4a4a4a" stroke-width="0.7"/>
<line x1="203.40" y1="307.40" x2="203.40" y2="303.50" stroke="#000" stroke-width="1.0" />
<line x1="201.00" y1="303.50" x2="205.80" y2="303.50" stroke="#000" stroke-width="1.0" />
<rect x="199.35" y="307.95" width="8.10" height="48.25" fill="#fff" stroke="#000" stroke-width="1.1"/>
<line x1="219.25" y1="331.20" x2="219.25" y2="329.50" stroke="#000" stroke-width="1.0" />
<line x1="216.85" y1="329.50" x2="221.65" y2="329.50" stroke="#000" stroke-width="1.0" />
<rect x="215.00" y="331.20" width="8.50" height="25.00" fill="#000"/>
<line x1="231.50" y1="330.50" x2="231.50" y2="325.40" stroke="#000" stroke-width="1.0" />
<line x1="229.10" y1="325.40" x2="233.90" y2="325.40" stroke="#000" stroke-width="1.0" />
<rect x="227.20" y="330.50" width="8.60" height="25.70" fill="#686868"/>
<rect x="227.55" y="330.85" width="7.90" height="25.35" fill="none" stroke="#4a4a4a" stroke-width="0.7"/>
<line x1="243.40" y1="331.60" x2="243.40" y2="331.00" stroke="#000" stroke-width="1.0" />
<line x1="241.00" y1="331.00" x2="245.80" y2="331.00" stroke="#000" stroke-width="1.0" />
<rect x="239.35" y="332.15" width="8.10" height="24.05" fill="#fff" stroke="#000" stroke-width="1.1"/>
<line x1="172.85" y1="356.20" x2="249.60" y2="356.20" stroke="#000" stroke-width="1.1" />
<line x1="179.30" y1="356.20" x2="179.30" y2="358.90" stroke="#000" stroke-width="0.95" />
<line x1="191.50" y1="356.20" x2="191.50" y2="358.90" stroke="#000" stroke-width="0.95" />
<line x1="203.40" y1="356.20" x2="203.40" y2="358.90" stroke="#000" stroke-width="0.95" />
<line x1="219.20" y1="356.20" x2="219.20" y2="358.90" stroke="#000" stroke-width="0.95" />
<line x1="231.50" y1="356.20" x2="231.50" y2="358.90" stroke="#000" stroke-width="0.95" />
<line x1="243.40" y1="356.20" x2="243.40" y2="358.90" stroke="#000" stroke-width="0.95" />
<text x="184.90" y="365.60" font-size="8.0" text-anchor="end" transform="rotate(-45 184.90 365.60)" >CNV</text>
<text x="197.10" y="365.60" font-size="8.0" text-anchor="end" transform="rotate(-45 197.10 365.60)" >NEO</text>
<text x="209.00" y="365.60" font-size="8.0" text-anchor="end" transform="rotate(-45 209.00 365.60)" ><tspan font-style="italic">Nod1</tspan><tspan font-size="4.96" baseline-shift="3.36">–/–</tspan></text>
<text x="224.80" y="365.60" font-size="8.0" text-anchor="end" transform="rotate(-45 224.80 365.60)" >CNV</text>
<text x="237.10" y="365.60" font-size="8.0" text-anchor="end" transform="rotate(-45 237.10 365.60)" >NEO</text>
<text x="249.00" y="365.60" font-size="8.0" text-anchor="end" transform="rotate(-45 249.00 365.60)" ><tspan font-style="italic">Nod1</tspan><tspan font-size="4.96" baseline-shift="3.36">–/–</tspan></text>
<text x="154.30" y="318.20" font-size="10.2" font-weight="bold" text-anchor="middle" transform="rotate(-90 154.30 318.20)" textLength="39.6" lengthAdjust="spacingAndGlyphs" >% Viable</text>
<text x="396.30" y="238.50" font-size="9.3" font-weight="bold" text-anchor="middle" textLength="30.0" lengthAdjust="spacingAndGlyphs" >Spleen</text>
<text x="344.40" y="249.80" font-size="9.3" font-weight="bold" text-anchor="middle" textLength="26.3" lengthAdjust="spacingAndGlyphs" >PMNs</text>
<text x="323.80" y="259.80" font-size="7.3" text-anchor="middle" textLength="23.6" lengthAdjust="spacingAndGlyphs" >Isotype</text>
<text x="363.10" y="259.80" font-size="7.3" text-anchor="middle" textLength="28.2" lengthAdjust="spacingAndGlyphs" >α-IL-17A</text>
<path d="M310.00 271.30V269.00H334.50V271.30" stroke="#000" stroke-width="0.95" fill="none" />
<text x="322.50" y="269.27" font-size="8.4" font-weight="bold" text-anchor="middle" >*</text>
<path d="M310.00 278.30V276.00H323.80V278.30" stroke="#000" stroke-width="0.95" fill="none" />
<text x="317.00" y="276.77" font-size="8.4" font-weight="bold" text-anchor="middle" >*</text>
<path d="M350.50 278.60V276.30H376.30V278.60M363.30 276.30V278.60" stroke="#000" stroke-width="0.95" fill="none" />
<text x="363.10" y="273.80" font-size="7.3" text-anchor="middle" >NS</text>
<line x1="305.50" y1="280.00" x2="305.50" y2="356.65" stroke="#000" stroke-width="1.1" />
<line x1="302.50" y1="356.10" x2="305.50" y2="356.10" stroke="#000" stroke-width="0.95" />
<line x1="302.50" y1="339.80" x2="305.50" y2="339.80" stroke="#000" stroke-width="0.95" />
<line x1="302.50" y1="323.50" x2="305.50" y2="323.50" stroke="#000" stroke-width="0.95" />
<line x1="302.50" y1="307.20" x2="305.50" y2="307.20" stroke="#000" stroke-width="0.95" />
<line x1="302.50" y1="290.90" x2="305.50" y2="290.90" stroke="#000" stroke-width="0.95" />
<line x1="303.90" y1="347.95" x2="305.50" y2="347.95" stroke="#000" stroke-width="0.8" />
<line x1="303.90" y1="331.65" x2="305.50" y2="331.65" stroke="#000" stroke-width="0.8" />
<line x1="303.90" y1="315.35" x2="305.50" y2="315.35" stroke="#000" stroke-width="0.8" />
<line x1="303.90" y1="299.05" x2="305.50" y2="299.05" stroke="#000" stroke-width="0.8" />
<line x1="303.90" y1="282.75" x2="305.50" y2="282.75" stroke="#000" stroke-width="0.8" />
<text x="299.20" y="358.84" font-size="7.6" text-anchor="end" >0</text>
<text x="299.20" y="342.54" font-size="7.6" text-anchor="end" >10</text>
<text x="299.20" y="326.24" font-size="7.6" text-anchor="end" >20</text>
<text x="299.20" y="309.94" font-size="7.6" text-anchor="end" >30</text>
<text x="299.20" y="293.64" font-size="7.6" text-anchor="end" >40</text>
<line x1="311.55" y1="286.80" x2="311.55" y2="282.70" stroke="#000" stroke-width="1.0" />
<line x1="309.15" y1="282.70" x2="313.95" y2="282.70" stroke="#000" stroke-width="1.0" />
<rect x="307.40" y="286.80" width="8.30" height="69.30" fill="#000"/>
<line x1="323.30" y1="304.60" x2="323.30" y2="301.60" stroke="#000" stroke-width="1.0" />
<line x1="320.90" y1="301.60" x2="325.70" y2="301.60" stroke="#000" stroke-width="1.0" />
<rect x="318.90" y="304.60" width="8.80" height="51.50" fill="#686868"/>
<rect x="319.25" y="304.95" width="8.10" height="51.15" fill="none" stroke="#4a4a4a" stroke-width="0.7"/>
<line x1="335.10" y1="305.00" x2="335.10" y2="301.60" stroke="#000" stroke-width="1.0" />
<line x1="332.70" y1="301.60" x2="337.50" y2="301.60" stroke="#000" stroke-width="1.0" />
<rect x="331.05" y="305.55" width="8.10" height="50.55" fill="#fff" stroke="#000" stroke-width="1.1"/>
<line x1="351.55" y1="337.60" x2="351.55" y2="333.50" stroke="#000" stroke-width="1.0" />
<line x1="349.15" y1="333.50" x2="353.95" y2="333.50" stroke="#000" stroke-width="1.0" />
<rect x="347.30" y="337.60" width="8.50" height="18.50" fill="#000"/>
<line x1="363.15" y1="328.40" x2="363.15" y2="322.60" stroke="#000" stroke-width="1.0" />
<line x1="360.75" y1="322.60" x2="365.55" y2="322.60" stroke="#000" stroke-width="1.0" />
<rect x="358.90" y="328.40" width="8.50" height="27.70" fill="#686868"/>
<rect x="359.25" y="328.75" width="7.80" height="27.35" fill="none" stroke="#4a4a4a" stroke-width="0.7"/>
<line x1="375.00" y1="338.50" x2="375.00" y2="333.50" stroke="#000" stroke-width="1.0" />
<line x1="372.60" y1="333.50" x2="377.40" y2="333.50" stroke="#000" stroke-width="1.0" />
<rect x="370.95" y="339.05" width="8.10" height="17.05" fill="#fff" stroke="#000" stroke-width="1.1"/>
<line x1="304.95" y1="356.10" x2="381.00" y2="356.10" stroke="#000" stroke-width="1.1" />
<line x1="311.50" y1="356.10" x2="311.50" y2="358.80" stroke="#000" stroke-width="0.95" />
<line x1="323.30" y1="356.10" x2="323.30" y2="358.80" stroke="#000" stroke-width="0.95" />
<line x1="335.10" y1="356.10" x2="335.10" y2="358.80" stroke="#000" stroke-width="0.95" />
<line x1="351.50" y1="356.10" x2="351.50" y2="358.80" stroke="#000" stroke-width="0.95" />
<line x1="363.10" y1="356.10" x2="363.10" y2="358.80" stroke="#000" stroke-width="0.95" />
<line x1="375.00" y1="356.10" x2="375.00" y2="358.80" stroke="#000" stroke-width="0.95" />
<text x="317.10" y="365.50" font-size="8.0" text-anchor="end" transform="rotate(-45 317.10 365.50)" >CNV</text>
<text x="328.90" y="365.50" font-size="8.0" text-anchor="end" transform="rotate(-45 328.90 365.50)" >NEO</text>
<text x="340.70" y="365.50" font-size="8.0" text-anchor="end" transform="rotate(-45 340.70 365.50)" ><tspan font-style="italic">Nod1</tspan><tspan font-size="4.96" baseline-shift="3.36">–/–</tspan></text>
<text x="357.10" y="365.50" font-size="8.0" text-anchor="end" transform="rotate(-45 357.10 365.50)" >CNV</text>
<text x="368.70" y="365.50" font-size="8.0" text-anchor="end" transform="rotate(-45 368.70 365.50)" >NEO</text>
<text x="380.60" y="365.50" font-size="8.0" text-anchor="end" transform="rotate(-45 380.60 365.50)" ><tspan font-style="italic">Nod1</tspan><tspan font-size="4.96" baseline-shift="3.36">–/–</tspan></text>
<text x="286.40" y="318.20" font-size="10.2" font-weight="bold" text-anchor="middle" transform="rotate(-90 286.40 318.20)" textLength="39.6" lengthAdjust="spacingAndGlyphs" >% Viable</text>
<text x="465.50" y="249.80" font-size="9.3" font-weight="bold" text-anchor="middle" textLength="14.8" lengthAdjust="spacingAndGlyphs" >IMs</text>
<text x="445.00" y="259.80" font-size="7.3" text-anchor="middle" textLength="23.6" lengthAdjust="spacingAndGlyphs" >Isotype</text>
<text x="484.50" y="259.80" font-size="7.3" text-anchor="middle" textLength="28.2" lengthAdjust="spacingAndGlyphs" >α-IL-17A</text>
<path d="M431.30 271.30V269.00H455.50V271.30" stroke="#000" stroke-width="0.95" fill="none" />
<text x="443.40" y="269.27" font-size="8.4" font-weight="bold" text-anchor="middle" >*</text>
<path d="M431.30 278.60V276.30H444.50V278.60" stroke="#000" stroke-width="0.95" fill="none" />
<text x="438.00" y="276.77" font-size="8.4" font-weight="bold" text-anchor="middle" >***</text>
<path d="M472.00 278.60V276.30H497.50V278.60M484.50 276.30V278.60" stroke="#000" stroke-width="0.95" fill="none" />
<text x="484.50" y="273.80" font-size="7.3" text-anchor="middle" >NS</text>
<line x1="426.40" y1="279.90" x2="426.40" y2="356.65" stroke="#000" stroke-width="1.1" />
<line x1="423.40" y1="356.10" x2="426.40" y2="356.10" stroke="#000" stroke-width="0.95" />
<line x1="423.40" y1="341.30" x2="426.40" y2="341.30" stroke="#000" stroke-width="0.95" />
<line x1="423.40" y1="326.50" x2="426.40" y2="326.50" stroke="#000" stroke-width="0.95" />
<line x1="423.40" y1="311.70" x2="426.40" y2="311.70" stroke="#000" stroke-width="0.95" />
<line x1="423.40" y1="296.90" x2="426.40" y2="296.90" stroke="#000" stroke-width="0.95" />
<line x1="423.40" y1="282.10" x2="426.40" y2="282.10" stroke="#000" stroke-width="0.95" />
<line x1="424.80" y1="348.70" x2="426.40" y2="348.70" stroke="#000" stroke-width="0.8" />
<line x1="424.80" y1="333.90" x2="426.40" y2="333.90" stroke="#000" stroke-width="0.8" />
<line x1="424.80" y1="319.10" x2="426.40" y2="319.10" stroke="#000" stroke-width="0.8" />
<line x1="424.80" y1="304.30" x2="426.40" y2="304.30" stroke="#000" stroke-width="0.8" />
<line x1="424.80" y1="289.50" x2="426.40" y2="289.50" stroke="#000" stroke-width="0.8" />
<text x="420.30" y="358.84" font-size="7.6" text-anchor="end" >0</text>
<text x="420.30" y="344.04" font-size="7.6" text-anchor="end" >10</text>
<text x="420.30" y="329.24" font-size="7.6" text-anchor="end" >20</text>
<text x="420.30" y="314.44" font-size="7.6" text-anchor="end" >30</text>
<text x="420.30" y="299.64" font-size="7.6" text-anchor="end" >40</text>
<text x="420.30" y="284.84" font-size="7.6" text-anchor="end" >50</text>
<line x1="432.55" y1="286.60" x2="432.55" y2="283.40" stroke="#000" stroke-width="1.0" />
<line x1="430.15" y1="283.40" x2="434.95" y2="283.40" stroke="#000" stroke-width="1.0" />
<rect x="428.20" y="286.60" width="8.70" height="69.50" fill="#000"/>
<line x1="444.40" y1="309.70" x2="444.40" y2="306.50" stroke="#000" stroke-width="1.0" />
<line x1="442.00" y1="306.50" x2="446.80" y2="306.50" stroke="#000" stroke-width="1.0" />
<rect x="439.90" y="309.70" width="9.00" height="46.40" fill="#686868"/>
<rect x="440.25" y="310.05" width="8.30" height="46.05" fill="none" stroke="#4a4a4a" stroke-width="0.7"/>
<line x1="456.30" y1="299.50" x2="456.30" y2="299.00" stroke="#000" stroke-width="1.0" />
<line x1="453.90" y1="299.00" x2="458.70" y2="299.00" stroke="#000" stroke-width="1.0" />
<rect x="452.45" y="300.05" width="7.70" height="56.05" fill="#fff" stroke="#000" stroke-width="1.1"/>
<line x1="472.30" y1="321.90" x2="472.30" y2="319.20" stroke="#000" stroke-width="1.0" />
<line x1="469.90" y1="319.20" x2="474.70" y2="319.20" stroke="#000" stroke-width="1.0" />
<rect x="468.00" y="321.90" width="8.60" height="34.20" fill="#000"/>
<line x1="484.25" y1="324.20" x2="484.25" y2="318.90" stroke="#000" stroke-width="1.0" />
<line x1="481.85" y1="318.90" x2="486.65" y2="318.90" stroke="#000" stroke-width="1.0" />
<rect x="479.60" y="324.20" width="9.30" height="31.90" fill="#686868"/>
<rect x="479.95" y="324.55" width="8.60" height="31.55" fill="none" stroke="#4a4a4a" stroke-width="0.7"/>
<line x1="496.25" y1="316.60" x2="496.25" y2="308.50" stroke="#000" stroke-width="1.0" />
<line x1="493.85" y1="308.50" x2="498.65" y2="308.50" stroke="#000" stroke-width="1.0" />
<rect x="492.15" y="317.15" width="8.20" height="38.95" fill="#fff" stroke="#000" stroke-width="1.1"/>
<line x1="425.85" y1="356.10" x2="502.70" y2="356.10" stroke="#000" stroke-width="1.1" />
<line x1="432.60" y1="356.10" x2="432.60" y2="358.80" stroke="#000" stroke-width="0.95" />
<line x1="444.40" y1="356.10" x2="444.40" y2="358.80" stroke="#000" stroke-width="0.95" />
<line x1="456.30" y1="356.10" x2="456.30" y2="358.80" stroke="#000" stroke-width="0.95" />
<line x1="472.30" y1="356.10" x2="472.30" y2="358.80" stroke="#000" stroke-width="0.95" />
<line x1="484.30" y1="356.10" x2="484.30" y2="358.80" stroke="#000" stroke-width="0.95" />
<line x1="496.30" y1="356.10" x2="496.30" y2="358.80" stroke="#000" stroke-width="0.95" />
<text x="438.20" y="365.50" font-size="8.0" text-anchor="end" transform="rotate(-45 438.20 365.50)" >CNV</text>
<text x="450.00" y="365.50" font-size="8.0" text-anchor="end" transform="rotate(-45 450.00 365.50)" >NEO</text>
<text x="461.90" y="365.50" font-size="8.0" text-anchor="end" transform="rotate(-45 461.90 365.50)" ><tspan font-style="italic">Nod1</tspan><tspan font-size="4.96" baseline-shift="3.36">–/–</tspan></text>
<text x="477.90" y="365.50" font-size="8.0" text-anchor="end" transform="rotate(-45 477.90 365.50)" >CNV</text>
<text x="489.90" y="365.50" font-size="8.0" text-anchor="end" transform="rotate(-45 489.90 365.50)" >NEO</text>
<text x="501.90" y="365.50" font-size="8.0" text-anchor="end" transform="rotate(-45 501.90 365.50)" ><tspan font-style="italic">Nod1</tspan><tspan font-size="4.96" baseline-shift="3.36">–/–</tspan></text>
<text x="406.60" y="318.20" font-size="10.2" font-weight="bold" text-anchor="middle" transform="rotate(-90 406.60 318.20)" textLength="39.6" lengthAdjust="spacingAndGlyphs" >% Viable</text>
<text x="309.60" y="425.40" font-size="9.3" font-weight="bold" text-anchor="middle" textLength="25.0" lengthAdjust="spacingAndGlyphs" >PMNs</text>
<text x="273.20" y="448.30" font-size="7.3" text-anchor="middle" textLength="23.6" lengthAdjust="spacingAndGlyphs" >Isotype</text>
<text x="308.80" y="448.30" font-size="7.3" text-anchor="middle" textLength="29.5" lengthAdjust="spacingAndGlyphs" >α-IL-17A</text>
<text x="344.10" y="440.20" font-size="7.3" text-anchor="middle" textLength="35.2" lengthAdjust="spacingAndGlyphs" >α-IL-17A +</text>
<text x="344.10" y="448.60" font-size="7.3" text-anchor="middle" textLength="22.4" lengthAdjust="spacingAndGlyphs" >Ligand</text>
<path d="M263.40 465.00V462.70H282.80V465.00" stroke="#000" stroke-width="0.95" fill="none" />
<text x="271.60" y="463.07" font-size="8.4" font-weight="bold" text-anchor="middle" >***</text>
<path d="M273.00 475.80V473.50H282.80V475.80" stroke="#000" stroke-width="0.95" fill="none" />
<text x="277.60" y="472.00" font-size="7.3" text-anchor="middle" >NS</text>
<path d="M263.40 484.10V481.80H273.00V484.10" stroke="#000" stroke-width="0.95" fill="none" />
<text x="268.20" y="482.57" font-size="8.4" font-weight="bold" text-anchor="middle" >***</text>
<path d="M299.60 484.10V481.80H318.80V484.10M309.50 481.80V484.10" stroke="#000" stroke-width="0.95" fill="none" />
<text x="309.40" y="479.50" font-size="7.3" text-anchor="middle" >NS</text>
<path d="M336.50 465.00V462.70H355.00V465.00" stroke="#000" stroke-width="0.95" fill="none" />
<text x="345.30" y="463.47" font-size="8.4" font-weight="bold" text-anchor="middle" >*</text>
<path d="M345.80 473.50V471.20H355.00V473.50" stroke="#000" stroke-width="0.95" fill="none" />
<text x="350.40" y="471.77" font-size="8.4" font-weight="bold" text-anchor="middle" >*</text>
<path d="M336.50 484.10V481.80H345.00V484.10" stroke="#000" stroke-width="0.95" fill="none" />
<text x="340.20" y="479.50" font-size="7.3" text-anchor="middle" >NS</text>
<line x1="260.40" y1="484.90" x2="260.40" y2="567.75" stroke="#000" stroke-width="1.1" />
<line x1="257.40" y1="567.20" x2="260.40" y2="567.20" stroke="#000" stroke-width="0.95" />
<line x1="257.40" y1="547.20" x2="260.40" y2="547.20" stroke="#000" stroke-width="0.95" />
<line x1="257.40" y1="527.20" x2="260.40" y2="527.20" stroke="#000" stroke-width="0.95" />
<line x1="257.40" y1="507.20" x2="260.40" y2="507.20" stroke="#000" stroke-width="0.95" />
<line x1="257.40" y1="487.20" x2="260.40" y2="487.20" stroke="#000" stroke-width="0.95" />
<line x1="258.80" y1="557.20" x2="260.40" y2="557.20" stroke="#000" stroke-width="0.8" />
<line x1="258.80" y1="537.20" x2="260.40" y2="537.20" stroke="#000" stroke-width="0.8" />
<line x1="258.80" y1="517.20" x2="260.40" y2="517.20" stroke="#000" stroke-width="0.8" />
<line x1="258.80" y1="497.20" x2="260.40" y2="497.20" stroke="#000" stroke-width="0.8" />
<text x="255.20" y="569.94" font-size="7.6" text-anchor="end" >0.0</text>
<text x="255.20" y="549.94" font-size="7.6" text-anchor="end" >0.5</text>
<text x="255.20" y="529.94" font-size="7.6" text-anchor="end" >1.0</text>
<text x="255.20" y="509.94" font-size="7.6" text-anchor="end" >1.5</text>
<text x="255.20" y="489.94" font-size="7.6" text-anchor="end" >2.0</text>
<line x1="264.45" y1="549.80" x2="264.45" y2="549.00" stroke="#000" stroke-width="1.0" />
<line x1="262.45" y1="549.00" x2="266.45" y2="549.00" stroke="#000" stroke-width="1.0" />
<rect x="261.20" y="549.80" width="6.50" height="17.40" fill="#000"/>
<line x1="273.50" y1="523.80" x2="273.50" y2="520.60" stroke="#000" stroke-width="1.0" />
<line x1="271.50" y1="520.60" x2="275.50" y2="520.60" stroke="#000" stroke-width="1.0" />
<rect x="270.40" y="523.80" width="6.20" height="43.40" fill="#686868"/>
<rect x="270.75" y="524.15" width="5.50" height="43.05" fill="none" stroke="#4a4a4a" stroke-width="0.7"/>
<line x1="282.10" y1="522.50" x2="282.10" y2="519.80" stroke="#000" stroke-width="1.0" />
<line x1="280.10" y1="519.80" x2="284.10" y2="519.80" stroke="#000" stroke-width="1.0" />
<rect x="279.55" y="523.05" width="5.10" height="44.15" fill="#fff" stroke="#000" stroke-width="1.1"/>
<line x1="300.15" y1="515.20" x2="300.15" y2="511.00" stroke="#000" stroke-width="1.0" />
<line x1="298.15" y1="511.00" x2="302.15" y2="511.00" stroke="#000" stroke-width="1.0" />
<rect x="296.80" y="515.20" width="6.70" height="52.00" fill="#000"/>
<line x1="309.45" y1="501.80" x2="309.45" y2="495.60" stroke="#000" stroke-width="1.0" />
<line x1="307.45" y1="495.60" x2="311.45" y2="495.60" stroke="#000" stroke-width="1.0" />
<rect x="306.20" y="501.80" width="6.50" height="65.40" fill="#686868"/>
<rect x="306.55" y="502.15" width="5.80" height="65.05" fill="none" stroke="#4a4a4a" stroke-width="0.7"/>
<line x1="318.40" y1="505.50" x2="318.40" y2="501.00" stroke="#000" stroke-width="1.0" />
<line x1="316.40" y1="501.00" x2="320.40" y2="501.00" stroke="#000" stroke-width="1.0" />
<rect x="315.35" y="506.05" width="6.10" height="61.15" fill="#fff" stroke="#000" stroke-width="1.1"/>
<line x1="335.95" y1="530.60" x2="335.95" y2="527.40" stroke="#000" stroke-width="1.0" />
<line x1="333.95" y1="527.40" x2="337.95" y2="527.40" stroke="#000" stroke-width="1.0" />
<rect x="332.90" y="530.60" width="6.10" height="36.60" fill="#000"/>
<line x1="345.10" y1="535.20" x2="345.10" y2="532.50" stroke="#000" stroke-width="1.0" />
<line x1="343.10" y1="532.50" x2="347.10" y2="532.50" stroke="#000" stroke-width="1.0" />
<rect x="341.70" y="535.20" width="6.80" height="32.00" fill="#686868"/>
<rect x="342.05" y="535.55" width="6.10" height="31.65" fill="none" stroke="#4a4a4a" stroke-width="0.7"/>
<line x1="354.55" y1="506.30" x2="354.55" y2="497.50" stroke="#000" stroke-width="1.0" />
<line x1="352.55" y1="497.50" x2="356.55" y2="497.50" stroke="#000" stroke-width="1.0" />
<rect x="351.75" y="506.85" width="5.60" height="60.35" fill="#fff" stroke="#000" stroke-width="1.1"/>
<line x1="259.85" y1="567.20" x2="368.70" y2="567.20" stroke="#000" stroke-width="1.1" />
<line x1="263.90" y1="567.20" x2="263.90" y2="569.90" stroke="#000" stroke-width="0.95" />
<line x1="273.30" y1="567.20" x2="273.30" y2="569.90" stroke="#000" stroke-width="0.95" />
<line x1="282.20" y1="567.20" x2="282.20" y2="569.90" stroke="#000" stroke-width="0.95" />
<line x1="300.10" y1="567.20" x2="300.10" y2="569.90" stroke="#000" stroke-width="0.95" />
<line x1="309.40" y1="567.20" x2="309.40" y2="569.90" stroke="#000" stroke-width="0.95" />
<line x1="318.40" y1="567.20" x2="318.40" y2="569.90" stroke="#000" stroke-width="0.95" />
<line x1="335.90" y1="567.20" x2="335.90" y2="569.90" stroke="#000" stroke-width="0.95" />
<line x1="345.10" y1="567.20" x2="345.10" y2="569.90" stroke="#000" stroke-width="0.95" />
<line x1="354.50" y1="567.20" x2="354.50" y2="569.90" stroke="#000" stroke-width="0.95" />
<text x="268.30" y="575.90" font-size="7.6" text-anchor="end" transform="rotate(-50 268.30 575.90)" >CNV</text>
<text x="277.70" y="575.90" font-size="7.6" text-anchor="end" transform="rotate(-50 277.70 575.90)" >NEO</text>
<text x="286.60" y="575.90" font-size="7.6" text-anchor="end" transform="rotate(-50 286.60 575.90)" ><tspan font-style="italic">Nod1</tspan><tspan font-size="4.71" baseline-shift="3.19">–/–</tspan></text>
<text x="304.50" y="575.90" font-size="7.6" text-anchor="end" transform="rotate(-50 304.50 575.90)" >CNV</text>
<text x="313.80" y="575.90" font-size="7.6" text-anchor="end" transform="rotate(-50 313.80 575.90)" >NEO</text>
<text x="322.80" y="575.90" font-size="7.6" text-anchor="end" transform="rotate(-50 322.80 575.90)" ><tspan font-style="italic">Nod1</tspan><tspan font-size="4.71" baseline-shift="3.19">–/–</tspan></text>
<text x="340.30" y="575.90" font-size="7.6" text-anchor="end" transform="rotate(-50 340.30 575.90)" >CNV</text>
<text x="349.50" y="575.90" font-size="7.6" text-anchor="end" transform="rotate(-50 349.50 575.90)" >NEO</text>
<text x="358.90" y="575.90" font-size="7.6" text-anchor="end" transform="rotate(-50 358.90 575.90)" ><tspan font-style="italic">Nod1</tspan><tspan font-size="4.71" baseline-shift="3.19">–/–</tspan></text>
<text x="239.20" y="526.70" font-size="9.3" font-weight="bold" text-anchor="middle" transform="rotate(-90 239.20 526.70)" textLength="83.5" lengthAdjust="spacingAndGlyphs" >Decay constant (<tspan font-style="italic">k</tspan>)</text>
<text x="448.30" y="425.40" font-size="9.3" font-weight="bold" text-anchor="middle" textLength="15.0" lengthAdjust="spacingAndGlyphs" >IMs</text>
<text x="411.90" y="448.30" font-size="7.3" text-anchor="middle" textLength="23.6" lengthAdjust="spacingAndGlyphs" >Isotype</text>
<text x="447.30" y="448.30" font-size="7.3" text-anchor="middle" textLength="29.5" lengthAdjust="spacingAndGlyphs" >α-IL-17A</text>
<text x="483.10" y="440.20" font-size="7.3" text-anchor="middle" textLength="35.2" lengthAdjust="spacingAndGlyphs" >α-IL-17A +</text>
<text x="483.10" y="448.60" font-size="7.3" text-anchor="middle" textLength="22.4" lengthAdjust="spacingAndGlyphs" >Ligand</text>
<path d="M402.00 464.80V462.50H421.00V464.80" stroke="#000" stroke-width="0.95" fill="none" />
<text x="412.00" y="462.97" font-size="8.4" font-weight="bold" text-anchor="middle" >***</text>
<path d="M411.00 475.00V472.70H421.00V475.00" stroke="#000" stroke-width="0.95" fill="none" />
<text x="416.00" y="471.60" font-size="7.3" text-anchor="middle" >NS</text>
<path d="M402.00 483.80V481.50H411.80V483.80" stroke="#000" stroke-width="0.95" fill="none" />
<text x="406.90" y="482.57" font-size="8.4" font-weight="bold" text-anchor="middle" >***</text>
<path d="M438.70 484.40V482.10H457.50V484.40M447.90 482.10V484.40" stroke="#000" stroke-width="0.95" fill="none" />
<text x="447.60" y="480.00" font-size="7.3" text-anchor="middle" >NS</text>
<path d="M474.20 464.80V462.50H493.00V464.80" stroke="#000" stroke-width="0.95" fill="none" />
<text x="483.60" y="463.57" font-size="8.4" font-weight="bold" text-anchor="middle" >**</text>
<path d="M483.70 474.50V472.20H493.00V474.50" stroke="#000" stroke-width="0.95" fill="none" />
<text x="488.00" y="472.47" font-size="8.4" font-weight="bold" text-anchor="middle" >**</text>
<path d="M474.20 484.30V482.00H483.70V484.30" stroke="#000" stroke-width="0.95" fill="none" />
<text x="479.00" y="480.00" font-size="7.3" text-anchor="middle" >NS</text>
<line x1="399.00" y1="484.80" x2="399.00" y2="567.85" stroke="#000" stroke-width="1.1" />
<line x1="396.00" y1="567.30" x2="399.00" y2="567.30" stroke="#000" stroke-width="0.95" />
<line x1="396.00" y1="540.60" x2="399.00" y2="540.60" stroke="#000" stroke-width="0.95" />
<line x1="396.00" y1="513.90" x2="399.00" y2="513.90" stroke="#000" stroke-width="0.95" />
<line x1="396.00" y1="487.20" x2="399.00" y2="487.20" stroke="#000" stroke-width="0.95" />
<line x1="397.40" y1="553.95" x2="399.00" y2="553.95" stroke="#000" stroke-width="0.8" />
<line x1="397.40" y1="527.25" x2="399.00" y2="527.25" stroke="#000" stroke-width="0.8" />
<line x1="397.40" y1="500.55" x2="399.00" y2="500.55" stroke="#000" stroke-width="0.8" />
<text x="395.30" y="570.04" font-size="7.6" text-anchor="end" >0.0</text>
<text x="395.30" y="543.34" font-size="7.6" text-anchor="end" >0.5</text>
<text x="395.30" y="516.64" font-size="7.6" text-anchor="end" >1.0</text>
<text x="395.30" y="489.94" font-size="7.6" text-anchor="end" >1.5</text>
<line x1="402.70" y1="549.40" x2="402.70" y2="547.30" stroke="#000" stroke-width="1.0" />
<line x1="400.70" y1="547.30" x2="404.70" y2="547.30" stroke="#000" stroke-width="1.0" />
<rect x="399.60" y="549.40" width="6.20" height="17.90" fill="#000"/>
<line x1="412.15" y1="529.70" x2="412.15" y2="528.30" stroke="#000" stroke-width="1.0" />
<line x1="410.15" y1="528.30" x2="414.15" y2="528.30" stroke="#000" stroke-width="1.0" />
<rect x="409.00" y="529.70" width="6.30" height="37.60" fill="#686868"/>
<rect x="409.35" y="530.05" width="5.60" height="37.25" fill="none" stroke="#4a4a4a" stroke-width="0.7"/>
<line x1="421.20" y1="530.60" x2="421.20" y2="528.60" stroke="#000" stroke-width="1.0" />
<line x1="419.20" y1="528.60" x2="423.20" y2="528.60" stroke="#000" stroke-width="1.0" />
<rect x="418.15" y="531.15" width="6.10" height="36.15" fill="#fff" stroke="#000" stroke-width="1.1"/>
<line x1="438.50" y1="508.40" x2="438.50" y2="505.20" stroke="#000" stroke-width="1.0" />
<line x1="436.50" y1="505.20" x2="440.50" y2="505.20" stroke="#000" stroke-width="1.0" />
<rect x="434.90" y="508.40" width="7.20" height="58.90" fill="#000"/>
<line x1="447.85" y1="512.70" x2="447.85" y2="508.40" stroke="#000" stroke-width="1.0" />
<line x1="445.85" y1="508.40" x2="449.85" y2="508.40" stroke="#000" stroke-width="1.0" />
<rect x="444.40" y="512.70" width="6.90" height="54.60" fill="#686868"/>
<rect x="444.75" y="513.05" width="6.20" height="54.25" fill="none" stroke="#4a4a4a" stroke-width="0.7"/>
<line x1="457.25" y1="512.40" x2="457.25" y2="508.10" stroke="#000" stroke-width="1.0" />
<line x1="455.25" y1="508.10" x2="459.25" y2="508.10" stroke="#000" stroke-width="1.0" />
<rect x="454.15" y="512.95" width="6.20" height="54.35" fill="#fff" stroke="#000" stroke-width="1.1"/>
<line x1="473.40" y1="535.50" x2="473.40" y2="532.90" stroke="#000" stroke-width="1.0" />
<line x1="471.40" y1="532.90" x2="475.40" y2="532.90" stroke="#000" stroke-width="1.0" />
<rect x="469.50" y="535.50" width="7.80" height="31.80" fill="#000"/>
<line x1="483.20" y1="534.00" x2="483.20" y2="530.60" stroke="#000" stroke-width="1.0" />
<line x1="481.20" y1="530.60" x2="485.20" y2="530.60" stroke="#000" stroke-width="1.0" />
<rect x="479.60" y="534.00" width="7.20" height="33.30" fill="#686868"/>
<rect x="479.95" y="534.35" width="6.50" height="32.95" fill="none" stroke="#4a4a4a" stroke-width="0.7"/>
<line x1="492.40" y1="507.50" x2="492.40" y2="502.30" stroke="#000" stroke-width="1.0" />
<line x1="490.40" y1="502.30" x2="494.40" y2="502.30" stroke="#000" stroke-width="1.0" />
<rect x="489.35" y="508.05" width="6.10" height="59.25" fill="#fff" stroke="#000" stroke-width="1.1"/>
<line x1="398.45" y1="567.30" x2="497.00" y2="567.30" stroke="#000" stroke-width="1.1" />
<line x1="402.70" y1="567.30" x2="402.70" y2="570.00" stroke="#000" stroke-width="0.95" />
<line x1="412.20" y1="567.30" x2="412.20" y2="570.00" stroke="#000" stroke-width="0.95" />
<line x1="421.20" y1="567.30" x2="421.20" y2="570.00" stroke="#000" stroke-width="0.95" />
<line x1="438.50" y1="567.30" x2="438.50" y2="570.00" stroke="#000" stroke-width="0.95" />
<line x1="447.90" y1="567.30" x2="447.90" y2="570.00" stroke="#000" stroke-width="0.95" />
<line x1="457.30" y1="567.30" x2="457.30" y2="570.00" stroke="#000" stroke-width="0.95" />
<line x1="473.40" y1="567.30" x2="473.40" y2="570.00" stroke="#000" stroke-width="0.95" />
<line x1="483.20" y1="567.30" x2="483.20" y2="570.00" stroke="#000" stroke-width="0.95" />
<line x1="492.40" y1="567.30" x2="492.40" y2="570.00" stroke="#000" stroke-width="0.95" />
<text x="407.10" y="576.00" font-size="7.6" text-anchor="end" transform="rotate(-50 407.10 576.00)" >CNV</text>
<text x="416.60" y="576.00" font-size="7.6" text-anchor="end" transform="rotate(-50 416.60 576.00)" >NEO</text>
<text x="425.60" y="576.00" font-size="7.6" text-anchor="end" transform="rotate(-50 425.60 576.00)" ><tspan font-style="italic">Nod1</tspan><tspan font-size="4.71" baseline-shift="3.19">–/–</tspan></text>
<text x="442.90" y="576.00" font-size="7.6" text-anchor="end" transform="rotate(-50 442.90 576.00)" >CNV</text>
<text x="452.30" y="576.00" font-size="7.6" text-anchor="end" transform="rotate(-50 452.30 576.00)" >NEO</text>
<text x="461.70" y="576.00" font-size="7.6" text-anchor="end" transform="rotate(-50 461.70 576.00)" ><tspan font-style="italic">Nod1</tspan><tspan font-size="4.71" baseline-shift="3.19">–/–</tspan></text>
<text x="477.80" y="576.00" font-size="7.6" text-anchor="end" transform="rotate(-50 477.80 576.00)" >CNV</text>
<text x="487.60" y="576.00" font-size="7.6" text-anchor="end" transform="rotate(-50 487.60 576.00)" >NEO</text>
<text x="496.80" y="576.00" font-size="7.6" text-anchor="end" transform="rotate(-50 496.80 576.00)" ><tspan font-style="italic">Nod1</tspan><tspan font-size="4.71" baseline-shift="3.19">–/–</tspan></text>
<text x="377.50" y="526.70" font-size="9.3" font-weight="bold" text-anchor="middle" transform="rotate(-90 377.50 526.70)" textLength="83.5" lengthAdjust="spacingAndGlyphs" >Decay constant (<tspan font-style="italic">k</tspan>)</text>
<text x="66.00" y="471.00" font-size="9.3" font-weight="bold" text-anchor="middle" textLength="26.8" lengthAdjust="spacingAndGlyphs" >PMNs</text>
<line x1="38.30" y1="489.40" x2="38.30" y2="567.30" stroke="#000" stroke-width="1.1" />
<line x1="35.30" y1="566.75" x2="38.30" y2="566.75" stroke="#000" stroke-width="0.95" />
<line x1="35.30" y1="551.69" x2="38.30" y2="551.69" stroke="#000" stroke-width="0.95" />
<line x1="35.30" y1="536.63" x2="38.30" y2="536.63" stroke="#000" stroke-width="0.95" />
<line x1="35.30" y1="521.57" x2="38.30" y2="521.57" stroke="#000" stroke-width="0.95" />
<line x1="35.30" y1="506.51" x2="38.30" y2="506.51" stroke="#000" stroke-width="0.95" />
<line x1="35.30" y1="491.45" x2="38.30" y2="491.45" stroke="#000" stroke-width="0.95" />
<text x="33.20" y="569.49" font-size="7.6" text-anchor="end" >0</text>
<text x="33.20" y="554.43" font-size="7.6" text-anchor="end" >20</text>
<text x="33.20" y="539.37" font-size="7.6" text-anchor="end" >40</text>
<text x="33.20" y="524.31" font-size="7.6" text-anchor="end" >60</text>
<text x="33.20" y="509.25" font-size="7.6" text-anchor="end" >80</text>
<text x="33.20" y="494.19" font-size="7.6" text-anchor="end" >100</text>
<line x1="37.75" y1="566.75" x2="92.60" y2="566.75" stroke="#000" stroke-width="1.1" />
<line x1="44.20" y1="566.75" x2="44.20" y2="569.45" stroke="#000" stroke-width="0.95" />
<line x1="56.15" y1="566.75" x2="56.15" y2="569.45" stroke="#000" stroke-width="0.95" />
<line x1="68.10" y1="566.75" x2="68.10" y2="569.45" stroke="#000" stroke-width="0.95" />
<line x1="80.05" y1="566.75" x2="80.05" y2="569.45" stroke="#000" stroke-width="0.95" />
<text x="44.20" y="579.60" font-size="7.8" text-anchor="middle" >2</text>
<text x="56.15" y="579.60" font-size="7.8" text-anchor="middle" >3</text>
<text x="68.10" y="579.60" font-size="7.8" text-anchor="middle" >4</text>
<text x="80.05" y="579.60" font-size="7.8" text-anchor="middle" >5</text>
<text x="66.05" y="591.20" font-size="9.5" font-weight="bold" text-anchor="middle" textLength="53.0" lengthAdjust="spacingAndGlyphs" >Time (days)</text>
<text x="15.20" y="527.50" font-size="9.7" font-weight="bold" text-anchor="middle" transform="rotate(-90 15.20 527.50)" textLength="37.6" lengthAdjust="spacingAndGlyphs" >% BrdU<tspan font-size="5.8" baseline-shift="3.5">+</tspan></text>
<path d="M44.20 496.72L45.17 499.06L46.14 501.33L47.10 503.52L48.07 505.63L49.04 507.68L50.01 509.65L50.98 511.56L51.94 513.41L52.91 515.19L53.88 516.92L54.85 518.58L55.82 520.19L56.78 521.75L57.75 523.26L58.72 524.71L59.69 526.12L60.66 527.48L61.62 528.79L62.59 530.06L63.56 531.29L64.53 532.47L65.50 533.62L66.46 534.73L67.43 535.80L68.40 536.83L69.37 537.84L70.34 538.80L71.30 539.74L72.27 540.64L73.24 541.51L74.21 542.36L75.18 543.17L76.14 543.96L77.11 544.73L78.08 545.46L79.05 546.17L80.02 546.86L80.98 547.53L81.95 548.17L82.92 548.79L83.89 549.39L84.86 549.97L85.82 550.53L86.79 551.08L87.76 551.60L88.73 552.11L89.70 552.60L90.66 553.07L91.63 553.53L92.60 553.97" stroke="#000" stroke-width="1.7" fill="none" />
<path d="M44.20 496.72L45.17 502.69L46.14 508.15L47.10 513.15L48.07 517.72L49.04 521.90L50.01 525.72L50.98 529.22L51.94 532.42L52.91 535.34L53.88 538.02L54.85 540.47L55.82 542.71L56.78 544.76L57.75 546.64L58.72 548.35L59.69 549.92L60.66 551.35L61.62 552.67L62.59 553.87L63.56 554.97L64.53 555.97L65.50 556.89L66.46 557.73L67.43 558.50L68.40 559.20L69.37 559.85L70.34 560.43L71.30 560.97L72.27 561.46L73.24 561.92L74.21 562.33L75.18 562.70L76.14 563.05L77.11 563.37L78.08 563.65L79.05 563.92L80.02 564.16L80.98 564.38L81.95 564.58L82.92 564.77L83.89 564.94L84.86 565.09L85.82 565.23L86.79 565.36L87.76 565.48L88.73 565.59L89.70 565.69L90.66 565.78L91.63 565.86L92.60 565.94" stroke="#111" stroke-width="1.4" fill="none" />
<path d="M44.20 496.72L45.17 503.21L46.14 509.09L47.10 514.43L48.07 519.28L49.04 523.68L50.01 527.67L50.98 531.29L51.94 534.57L52.91 537.55L53.88 540.26L54.85 542.71L55.82 544.94L56.78 546.96L57.75 548.79L58.72 550.46L59.69 551.96L60.66 553.33L61.62 554.58L62.59 555.70L63.56 556.73L64.53 557.66L65.50 558.50L66.46 559.26L67.43 559.96L68.40 560.59L69.37 561.16L70.34 561.67L71.30 562.14L72.27 562.57L73.24 562.96L74.21 563.31L75.18 563.63L76.14 563.92L77.11 564.18L78.08 564.42L79.05 564.63L80.02 564.83L80.98 565.01L81.95 565.17L82.92 565.32L83.89 565.45L84.86 565.57L85.82 565.68L86.79 565.78L87.76 565.87L88.73 565.95L89.70 566.02L90.66 566.09L91.63 566.15L92.60 566.21" stroke="#111" stroke-width="1.4" fill="none" />
<path d="M44.20 496.72L45.17 504.48L46.14 511.38L47.10 517.52L48.07 522.97L49.04 527.83L50.01 532.14L50.98 535.97L51.94 539.39L52.91 542.42L53.88 545.11L54.85 547.51L55.82 549.64L56.78 551.54L57.75 553.23L58.72 554.72L59.69 556.06L60.66 557.24L61.62 558.30L62.59 559.23L63.56 560.07L64.53 560.81L65.50 561.46L66.46 562.05L67.43 562.57L68.40 563.03L69.37 563.45L70.34 563.81L71.30 564.14L72.27 564.43L73.24 564.68L74.21 564.91L75.18 565.12L76.14 565.30L77.11 565.46L78.08 565.60L79.05 565.73L80.02 565.84L80.98 565.94L81.95 566.03L82.92 566.11L83.89 566.18L84.86 566.25L85.82 566.30L86.79 566.35L87.76 566.40L88.73 566.43L89.70 566.47L90.66 566.50L91.63 566.53L92.60 566.55" stroke="#111" stroke-width="1.4" fill="none" stroke-dasharray="3.2 1.6"/>
<path d="M44.20 496.72L45.17 505.23L46.14 512.71L47.10 519.28L48.07 525.05L49.04 530.12L50.01 534.57L50.98 538.48L51.94 541.92L52.91 544.94L53.88 547.59L54.85 549.92L55.82 551.96L56.78 553.76L57.75 555.34L58.72 556.73L59.69 557.95L60.66 559.02L61.62 559.96L62.59 560.78L63.56 561.51L64.53 562.14L65.50 562.70L66.46 563.20L67.43 563.63L68.40 564.01L69.37 564.34L70.34 564.63L71.30 564.89L72.27 565.12L73.24 565.32L74.21 565.49L75.18 565.64L76.14 565.78L77.11 565.90L78.08 566.00L79.05 566.09L80.02 566.17L80.98 566.24L81.95 566.30L82.92 566.36L83.89 566.41L84.86 566.45L85.82 566.48L86.79 566.52L87.76 566.54L88.73 566.57L89.70 566.59L90.66 566.61L91.63 566.63L92.60 566.64" stroke="#111" stroke-width="1.4" fill="none" stroke-dasharray="3.2 1.6"/>
<path d="M44.20 496.72L45.17 503.72L46.14 510.02L47.10 515.69L48.07 520.79L49.04 525.39L50.01 529.52L50.98 533.24L51.94 536.59L52.91 539.61L53.88 542.32L54.85 544.76L55.82 546.96L56.78 548.94L57.75 550.72L58.72 552.32L59.69 553.76L60.66 555.06L61.62 556.23L62.59 557.28L63.56 558.23L64.53 559.08L65.50 559.85L66.46 560.54L67.43 561.16L68.40 561.72L69.37 562.22L70.34 562.67L71.30 563.08L72.27 563.45L73.24 563.78L74.21 564.07L75.18 564.34L76.14 564.58L77.11 564.80L78.08 564.99L79.05 565.17L80.02 565.33L80.98 565.47L81.95 565.60L82.92 565.71L83.89 565.82L84.86 565.91L85.82 565.99L86.79 566.07L87.76 566.14L88.73 566.20L89.70 566.25L90.66 566.30L91.63 566.35L92.60 566.39" stroke="#111" stroke-width="1.4" fill="none" stroke-dasharray="3.2 1.6"/>
<path d="M44.20 496.72L45.17 501.91L46.14 506.71L47.10 511.16L48.07 515.28L49.04 519.09L50.01 522.62L50.98 525.89L51.94 528.91L52.91 531.72L53.88 534.31L54.85 536.71L55.82 538.94L56.78 541.00L57.75 542.91L58.72 544.67L59.69 546.31L60.66 547.82L61.62 549.22L62.59 550.52L63.56 551.72L64.53 552.84L65.50 553.87L66.46 554.82L67.43 555.70L68.40 556.52L69.37 557.28L70.34 557.98L71.30 558.63L72.27 559.23L73.24 559.79L74.21 560.30L75.18 560.78L76.14 561.22L77.11 561.63L78.08 562.01L79.05 562.36L80.02 562.69L80.98 562.99L81.95 563.27L82.92 563.53L83.89 563.76L84.86 563.99L85.82 564.19L86.79 564.38L87.76 564.56L88.73 564.72L89.70 564.87L90.66 565.01L91.63 565.14L92.60 565.26" stroke="#222" stroke-width="1.5" fill="none" stroke-dasharray="1.1 1.3"/>
<path d="M44.20 496.72L45.17 501.01L46.14 505.03L47.10 508.81L48.07 512.36L49.04 515.69L50.01 518.82L50.98 521.75L51.94 524.51L52.91 527.09L53.88 529.52L54.85 531.80L55.82 533.94L56.78 535.95L57.75 537.84L58.72 539.61L59.69 541.27L60.66 542.83L61.62 544.29L62.59 545.67L63.56 546.96L64.53 548.17L65.50 549.31L66.46 550.38L67.43 551.38L68.40 552.32L69.37 553.20L70.34 554.03L71.30 554.81L72.27 555.54L73.24 556.23L74.21 556.87L75.18 557.48L76.14 558.05L77.11 558.58L78.08 559.08L79.05 559.55L80.02 559.99L80.98 560.40L81.95 560.79L82.92 561.16L83.89 561.50L84.86 561.82L85.82 562.12L86.79 562.41L87.76 562.67L88.73 562.92L89.70 563.16L90.66 563.38L91.63 563.58L92.60 563.78" stroke="#222" stroke-width="1.5" fill="none" stroke-dasharray="1.1 1.3"/>
<path d="M44.20 496.72L45.17 504.73L46.14 511.83L47.10 518.11L48.07 523.68L49.04 528.61L50.01 532.97L50.98 536.83L51.94 540.26L52.91 543.29L53.88 545.97L54.85 548.35L55.82 550.46L56.78 552.32L57.75 553.97L58.72 555.43L59.69 556.73L60.66 557.87L61.62 558.89L62.59 559.79L63.56 560.59L64.53 561.29L65.50 561.92L66.46 562.47L67.43 562.96L68.40 563.39L69.37 563.78L70.34 564.12L71.30 564.42L72.27 564.68L73.24 564.92L74.21 565.13L75.18 565.32L76.14 565.48L77.11 565.63L78.08 565.75L79.05 565.87L80.02 565.97L80.98 566.06L81.95 566.14L82.92 566.21L83.89 566.27L84.86 566.32L85.82 566.37L86.79 566.42L87.76 566.45L88.73 566.49L89.70 566.52L90.66 566.54L91.63 566.57L92.60 566.59" stroke="#222" stroke-width="1.5" fill="none" stroke-dasharray="1.1 1.3"/>
<line x1="44.20" y1="494.09" x2="44.20" y2="498.60" stroke="#000" stroke-width="0.9" />
<line x1="42.10" y1="494.09" x2="46.30" y2="494.09" stroke="#000" stroke-width="0.9" />
<line x1="42.10" y1="498.60" x2="46.30" y2="498.60" stroke="#000" stroke-width="0.9" />
<circle cx="44.20" cy="496.34" r="1.2" fill="#000"/>
<line x1="68.10" y1="533.66" x2="68.10" y2="539.38" stroke="#000" stroke-width="0.9" />
<line x1="66.00" y1="533.66" x2="70.20" y2="533.66" stroke="#000" stroke-width="0.9" />
<line x1="66.00" y1="539.38" x2="70.20" y2="539.38" stroke="#000" stroke-width="0.9" />
<circle cx="68.10" cy="536.52" r="1.2" fill="#000"/>
<line x1="80.05" y1="544.02" x2="80.05" y2="549.75" stroke="#000" stroke-width="0.9" />
<line x1="77.95" y1="544.02" x2="82.15" y2="544.02" stroke="#000" stroke-width="0.9" />
<line x1="77.95" y1="549.75" x2="82.15" y2="549.75" stroke="#000" stroke-width="0.9" />
<circle cx="80.05" cy="546.89" r="1.2" fill="#000"/>
<line x1="44.20" y1="494.09" x2="44.20" y2="498.60" stroke="#000" stroke-width="0.9" />
<line x1="42.10" y1="494.09" x2="46.30" y2="494.09" stroke="#000" stroke-width="0.9" />
<line x1="42.10" y1="498.60" x2="46.30" y2="498.60" stroke="#000" stroke-width="0.9" />
<circle cx="44.20" cy="496.34" r="1.2" fill="#6a6a6a"/>
<line x1="68.10" y1="557.03" x2="68.10" y2="560.95" stroke="#000" stroke-width="0.9" />
<line x1="66.00" y1="557.03" x2="70.20" y2="557.03" stroke="#000" stroke-width="0.9" />
<line x1="66.00" y1="560.95" x2="70.20" y2="560.95" stroke="#000" stroke-width="0.9" />
<circle cx="68.10" cy="558.99" r="1.2" fill="#6a6a6a"/>
<line x1="80.05" y1="562.21" x2="80.05" y2="566.12" stroke="#000" stroke-width="0.9" />
<line x1="77.95" y1="562.21" x2="82.15" y2="562.21" stroke="#000" stroke-width="0.9" />
<line x1="77.95" y1="566.12" x2="82.15" y2="566.12" stroke="#000" stroke-width="0.9" />
<circle cx="80.05" cy="564.17" r="1.2" fill="#6a6a6a"/>
<line x1="44.20" y1="494.09" x2="44.20" y2="498.60" stroke="#000" stroke-width="0.9" />
<line x1="42.10" y1="494.09" x2="46.30" y2="494.09" stroke="#000" stroke-width="0.9" />
<line x1="42.10" y1="498.60" x2="46.30" y2="498.60" stroke="#000" stroke-width="0.9" />
<circle cx="44.20" cy="496.34" r="1.1" fill="#fff" stroke="#000" stroke-width="0.7"/>
<line x1="68.10" y1="558.44" x2="68.10" y2="562.35" stroke="#000" stroke-width="0.9" />
<line x1="66.00" y1="558.44" x2="70.20" y2="558.44" stroke="#000" stroke-width="0.9" />
<line x1="66.00" y1="562.35" x2="70.20" y2="562.35" stroke="#000" stroke-width="0.9" />
<circle cx="68.10" cy="560.40" r="1.1" fill="#fff" stroke="#000" stroke-width="0.7"/>
<line x1="80.05" y1="562.88" x2="80.05" y2="566.79" stroke="#000" stroke-width="0.9" />
<line x1="77.95" y1="562.88" x2="82.15" y2="562.88" stroke="#000" stroke-width="0.9" />
<line x1="77.95" y1="566.79" x2="82.15" y2="566.79" stroke="#000" stroke-width="0.9" />
<circle cx="80.05" cy="564.84" r="1.1" fill="#fff" stroke="#000" stroke-width="0.7"/>
<line x1="44.20" y1="494.09" x2="44.20" y2="498.60" stroke="#000" stroke-width="0.9" />
<line x1="42.10" y1="494.09" x2="46.30" y2="494.09" stroke="#000" stroke-width="0.9" />
<line x1="42.10" y1="498.60" x2="46.30" y2="498.60" stroke="#000" stroke-width="0.9" />
<circle cx="44.20" cy="496.34" r="1.2" fill="#000"/>
<line x1="68.10" y1="560.94" x2="68.10" y2="564.85" stroke="#000" stroke-width="0.9" />
<line x1="66.00" y1="560.94" x2="70.20" y2="560.94" stroke="#000" stroke-width="0.9" />
<line x1="66.00" y1="564.85" x2="70.20" y2="564.85" stroke="#000" stroke-width="0.9" />
<circle cx="68.10" cy="562.90" r="1.2" fill="#000"/>
<line x1="80.05" y1="563.89" x2="80.05" y2="567.80" stroke="#000" stroke-width="0.9" />
<line x1="77.95" y1="563.89" x2="82.15" y2="563.89" stroke="#000" stroke-width="0.9" />
<line x1="77.95" y1="567.80" x2="82.15" y2="567.80" stroke="#000" stroke-width="0.9" />
<circle cx="80.05" cy="565.85" r="1.2" fill="#000"/>
<line x1="44.20" y1="494.09" x2="44.20" y2="498.60" stroke="#000" stroke-width="0.9" />
<line x1="42.10" y1="494.09" x2="46.30" y2="494.09" stroke="#000" stroke-width="0.9" />
<line x1="42.10" y1="498.60" x2="46.30" y2="498.60" stroke="#000" stroke-width="0.9" />
<circle cx="44.20" cy="496.34" r="1.2" fill="#6a6a6a"/>
<line x1="68.10" y1="561.94" x2="68.10" y2="565.85" stroke="#000" stroke-width="0.9" />
<line x1="66.00" y1="561.94" x2="70.20" y2="561.94" stroke="#000" stroke-width="0.9" />
<line x1="66.00" y1="565.85" x2="70.20" y2="565.85" stroke="#000" stroke-width="0.9" />
<circle cx="68.10" cy="563.90" r="1.2" fill="#6a6a6a"/>
<line x1="80.05" y1="564.22" x2="80.05" y2="568.13" stroke="#000" stroke-width="0.9" />
<line x1="77.95" y1="564.22" x2="82.15" y2="564.22" stroke="#000" stroke-width="0.9" />
<line x1="77.95" y1="568.13" x2="82.15" y2="568.13" stroke="#000" stroke-width="0.9" />
<circle cx="80.05" cy="566.17" r="1.2" fill="#6a6a6a"/>
<line x1="44.20" y1="494.09" x2="44.20" y2="498.60" stroke="#000" stroke-width="0.9" />
<line x1="42.10" y1="494.09" x2="46.30" y2="494.09" stroke="#000" stroke-width="0.9" />
<line x1="42.10" y1="498.60" x2="46.30" y2="498.60" stroke="#000" stroke-width="0.9" />
<circle cx="44.20" cy="496.34" r="1.1" fill="#fff" stroke="#000" stroke-width="0.7"/>
<line x1="68.10" y1="559.59" x2="68.10" y2="563.51" stroke="#000" stroke-width="0.9" />
<line x1="66.00" y1="559.59" x2="70.20" y2="559.59" stroke="#000" stroke-width="0.9" />
<line x1="66.00" y1="563.51" x2="70.20" y2="563.51" stroke="#000" stroke-width="0.9" />
<circle cx="68.10" cy="561.55" r="1.1" fill="#fff" stroke="#000" stroke-width="0.7"/>
<line x1="80.05" y1="563.37" x2="80.05" y2="567.29" stroke="#000" stroke-width="0.9" />
<line x1="77.95" y1="563.37" x2="82.15" y2="563.37" stroke="#000" stroke-width="0.9" />
<line x1="77.95" y1="567.29" x2="82.15" y2="567.29" stroke="#000" stroke-width="0.9" />
<circle cx="80.05" cy="565.33" r="1.1" fill="#fff" stroke="#000" stroke-width="0.7"/>
<line x1="44.20" y1="494.09" x2="44.20" y2="498.60" stroke="#000" stroke-width="0.9" />
<line x1="42.10" y1="494.09" x2="46.30" y2="494.09" stroke="#000" stroke-width="0.9" />
<line x1="42.10" y1="498.60" x2="46.30" y2="498.60" stroke="#000" stroke-width="0.9" />
<circle cx="44.20" cy="496.34" r="1.2" fill="#000"/>
<line x1="68.10" y1="554.32" x2="68.10" y2="558.23" stroke="#000" stroke-width="0.9" />
<line x1="66.00" y1="554.32" x2="70.20" y2="554.32" stroke="#000" stroke-width="0.9" />
<line x1="66.00" y1="558.23" x2="70.20" y2="558.23" stroke="#000" stroke-width="0.9" />
<circle cx="68.10" cy="556.28" r="1.2" fill="#000"/>
<line x1="80.05" y1="560.74" x2="80.05" y2="564.66" stroke="#000" stroke-width="0.9" />
<line x1="77.95" y1="560.74" x2="82.15" y2="560.74" stroke="#000" stroke-width="0.9" />
<line x1="77.95" y1="564.66" x2="82.15" y2="564.66" stroke="#000" stroke-width="0.9" />
<circle cx="80.05" cy="562.70" r="1.2" fill="#000"/>
<line x1="44.20" y1="494.09" x2="44.20" y2="498.60" stroke="#000" stroke-width="0.9" />
<line x1="42.10" y1="494.09" x2="46.30" y2="494.09" stroke="#000" stroke-width="0.9" />
<line x1="42.10" y1="498.60" x2="46.30" y2="498.60" stroke="#000" stroke-width="0.9" />
<circle cx="44.20" cy="496.34" r="1.2" fill="#6a6a6a"/>
<line x1="68.10" y1="550.08" x2="68.10" y2="553.99" stroke="#000" stroke-width="0.9" />
<line x1="66.00" y1="550.08" x2="70.20" y2="550.08" stroke="#000" stroke-width="0.9" />
<line x1="66.00" y1="553.99" x2="70.20" y2="553.99" stroke="#000" stroke-width="0.9" />
<circle cx="68.10" cy="552.03" r="1.2" fill="#6a6a6a"/>
<line x1="80.05" y1="558.05" x2="80.05" y2="561.96" stroke="#000" stroke-width="0.9" />
<line x1="77.95" y1="558.05" x2="82.15" y2="558.05" stroke="#000" stroke-width="0.9" />
<line x1="77.95" y1="561.96" x2="82.15" y2="561.96" stroke="#000" stroke-width="0.9" />
<circle cx="80.05" cy="560.00" r="1.2" fill="#6a6a6a"/>
<line x1="44.20" y1="494.09" x2="44.20" y2="498.60" stroke="#000" stroke-width="0.9" />
<line x1="42.10" y1="494.09" x2="46.30" y2="494.09" stroke="#000" stroke-width="0.9" />
<line x1="42.10" y1="498.60" x2="46.30" y2="498.60" stroke="#000" stroke-width="0.9" />
<circle cx="44.20" cy="496.34" r="1.1" fill="#fff" stroke="#000" stroke-width="0.7"/>
<line x1="68.10" y1="561.31" x2="68.10" y2="565.22" stroke="#000" stroke-width="0.9" />
<line x1="66.00" y1="561.31" x2="70.20" y2="561.31" stroke="#000" stroke-width="0.9" />
<line x1="66.00" y1="565.22" x2="70.20" y2="565.22" stroke="#000" stroke-width="0.9" />
<circle cx="68.10" cy="563.26" r="1.1" fill="#fff" stroke="#000" stroke-width="0.7"/>
<line x1="80.05" y1="564.01" x2="80.05" y2="567.93" stroke="#000" stroke-width="0.9" />
<line x1="77.95" y1="564.01" x2="82.15" y2="564.01" stroke="#000" stroke-width="0.9" />
<line x1="77.95" y1="567.93" x2="82.15" y2="567.93" stroke="#000" stroke-width="0.9" />
<circle cx="80.05" cy="565.97" r="1.1" fill="#fff" stroke="#000" stroke-width="0.7"/>
<text x="164.90" y="471.00" font-size="9.3" font-weight="bold" text-anchor="middle" textLength="15.0" lengthAdjust="spacingAndGlyphs" >IMs</text>
<line x1="138.30" y1="489.40" x2="138.30" y2="567.30" stroke="#000" stroke-width="1.1" />
<line x1="135.30" y1="566.75" x2="138.30" y2="566.75" stroke="#000" stroke-width="0.95" />
<line x1="135.30" y1="551.69" x2="138.30" y2="551.69" stroke="#000" stroke-width="0.95" />
<line x1="135.30" y1="536.63" x2="138.30" y2="536.63" stroke="#000" stroke-width="0.95" />
<line x1="135.30" y1="521.57" x2="138.30" y2="521.57" stroke="#000" stroke-width="0.95" />
<line x1="135.30" y1="506.51" x2="138.30" y2="506.51" stroke="#000" stroke-width="0.95" />
<line x1="135.30" y1="491.45" x2="138.30" y2="491.45" stroke="#000" stroke-width="0.95" />
<text x="133.20" y="569.49" font-size="7.6" text-anchor="end" >0</text>
<text x="133.20" y="554.43" font-size="7.6" text-anchor="end" >20</text>
<text x="133.20" y="539.37" font-size="7.6" text-anchor="end" >40</text>
<text x="133.20" y="524.31" font-size="7.6" text-anchor="end" >60</text>
<text x="133.20" y="509.25" font-size="7.6" text-anchor="end" >80</text>
<text x="133.20" y="494.19" font-size="7.6" text-anchor="end" >100</text>
<line x1="137.75" y1="566.75" x2="192.00" y2="566.75" stroke="#000" stroke-width="1.1" />
<line x1="144.00" y1="566.75" x2="144.00" y2="569.45" stroke="#000" stroke-width="0.95" />
<line x1="156.00" y1="566.75" x2="156.00" y2="569.45" stroke="#000" stroke-width="0.95" />
<line x1="168.00" y1="566.75" x2="168.00" y2="569.45" stroke="#000" stroke-width="0.95" />
<line x1="180.00" y1="566.75" x2="180.00" y2="569.45" stroke="#000" stroke-width="0.95" />
<text x="144.00" y="579.60" font-size="7.8" text-anchor="middle" >2</text>
<text x="156.00" y="579.60" font-size="7.8" text-anchor="middle" >3</text>
<text x="168.00" y="579.60" font-size="7.8" text-anchor="middle" >4</text>
<text x="180.00" y="579.60" font-size="7.8" text-anchor="middle" >5</text>
<text x="165.75" y="591.20" font-size="9.5" font-weight="bold" text-anchor="middle" textLength="53.0" lengthAdjust="spacingAndGlyphs" >Time (days)</text>
<text x="115.20" y="527.50" font-size="9.7" font-weight="bold" text-anchor="middle" transform="rotate(-90 115.20 527.50)" textLength="37.6" lengthAdjust="spacingAndGlyphs" >% BrdU<tspan font-size="5.8" baseline-shift="3.5">+</tspan></text>
<path d="M144.00 496.72L144.96 498.65L145.92 500.53L146.88 502.36L147.84 504.14L148.80 505.87L149.76 507.55L150.72 509.19L151.68 510.77L152.64 512.32L153.60 513.82L154.56 515.28L155.52 516.71L156.48 518.09L157.44 519.43L158.40 520.74L159.36 522.01L160.32 523.24L161.28 524.44L162.24 525.61L163.20 526.75L164.16 527.85L165.12 528.93L166.08 529.97L167.04 530.99L168.00 531.97L168.96 532.93L169.92 533.87L170.88 534.78L171.84 535.66L172.80 536.52L173.76 537.35L174.72 538.16L175.68 538.95L176.64 539.72L177.60 540.47L178.56 541.19L179.52 541.90L180.48 542.58L181.44 543.25L182.40 543.90L183.36 544.53L184.32 545.15L185.28 545.74L186.24 546.32L187.20 546.89L188.16 547.43L189.12 547.97L190.08 548.49L191.04 548.99L192.00 549.48" stroke="#000" stroke-width="1.7" fill="none" />
<path d="M144.00 496.72L144.96 500.53L145.92 504.14L146.88 507.55L147.84 510.77L148.80 513.82L149.76 516.71L150.72 519.43L151.68 522.01L152.64 524.44L153.60 526.75L154.56 528.93L155.52 530.99L156.48 532.93L157.44 534.78L158.40 536.52L159.36 538.16L160.32 539.72L161.28 541.19L162.24 542.58L163.20 543.90L164.16 545.15L165.12 546.32L166.08 547.43L167.04 548.49L168.00 549.48L168.96 550.42L169.92 551.31L170.88 552.15L171.84 552.95L172.80 553.70L173.76 554.41L174.72 555.08L175.68 555.72L176.64 556.32L177.60 556.89L178.56 557.42L179.52 557.93L180.48 558.41L181.44 558.87L182.40 559.29L183.36 559.70L184.32 560.08L185.28 560.45L186.24 560.79L187.20 561.12L188.16 561.42L189.12 561.71L190.08 561.99L191.04 562.25L192.00 562.49" stroke="#111" stroke-width="1.4" fill="none" />
<path d="M144.00 496.72L144.96 500.53L145.92 504.14L146.88 507.55L147.84 510.77L148.80 513.82L149.76 516.71L150.72 519.43L151.68 522.01L152.64 524.44L153.60 526.75L154.56 528.93L155.52 530.99L156.48 532.93L157.44 534.78L158.40 536.52L159.36 538.16L160.32 539.72L161.28 541.19L162.24 542.58L163.20 543.90L164.16 545.15L165.12 546.32L166.08 547.43L167.04 548.49L168.00 549.48L168.96 550.42L169.92 551.31L170.88 552.15L171.84 552.95L172.80 553.70L173.76 554.41L174.72 555.08L175.68 555.72L176.64 556.32L177.60 556.89L178.56 557.42L179.52 557.93L180.48 558.41L181.44 558.87L182.40 559.29L183.36 559.70L184.32 560.08L185.28 560.45L186.24 560.79L187.20 561.12L188.16 561.42L189.12 561.71L190.08 561.99L191.04 562.25L192.00 562.49" stroke="#111" stroke-width="1.4" fill="none" />
<path d="M144.00 496.72L144.96 502.62L145.92 508.02L146.88 512.97L147.84 517.50L148.80 521.65L149.76 525.45L150.72 528.93L151.68 532.11L152.64 535.03L153.60 537.70L154.56 540.15L155.52 542.39L156.48 544.44L157.44 546.32L158.40 548.04L159.36 549.62L160.32 551.06L161.28 552.38L162.24 553.59L163.20 554.70L164.16 555.72L165.12 556.65L166.08 557.50L167.04 558.28L168.00 558.99L168.96 559.64L169.92 560.24L170.88 560.79L171.84 561.29L172.80 561.75L173.76 562.17L174.72 562.56L175.68 562.91L176.64 563.24L177.60 563.53L178.56 563.80L179.52 564.05L180.48 564.28L181.44 564.49L182.40 564.68L183.36 564.85L184.32 565.01L185.28 565.16L186.24 565.29L187.20 565.42L188.16 565.53L189.12 565.63L190.08 565.72L191.04 565.81L192.00 565.89" stroke="#111" stroke-width="1.4" fill="none" stroke-dasharray="3.2 1.6"/>
<path d="M144.00 496.72L144.96 502.36L145.92 507.55L146.88 512.32L147.84 516.71L148.80 520.74L149.76 524.44L150.72 527.85L151.68 530.99L152.64 533.87L153.60 536.52L154.56 538.95L155.52 541.19L156.48 543.25L157.44 545.15L158.40 546.89L159.36 548.49L160.32 549.96L161.28 551.31L162.24 552.55L163.20 553.70L164.16 554.75L165.12 555.72L166.08 556.61L167.04 557.42L168.00 558.17L168.96 558.87L169.92 559.50L170.88 560.08L171.84 560.62L172.80 561.12L173.76 561.57L174.72 561.99L175.68 562.37L176.64 562.72L177.60 563.05L178.56 563.35L179.52 563.62L180.48 563.87L181.44 564.10L182.40 564.32L183.36 564.51L184.32 564.69L185.28 564.86L186.24 565.01L187.20 565.15L188.16 565.28L189.12 565.40L190.08 565.51L191.04 565.61L192.00 565.70" stroke="#111" stroke-width="1.4" fill="none" stroke-dasharray="3.2 1.6"/>
<path d="M144.00 496.72L144.96 502.26L145.92 507.36L146.88 512.06L147.84 516.38L148.80 520.37L149.76 524.04L150.72 527.42L151.68 530.53L152.64 533.39L153.60 536.03L154.56 538.46L155.52 540.70L156.48 542.76L157.44 544.66L158.40 546.40L159.36 548.01L160.32 549.49L161.28 550.86L162.24 552.12L163.20 553.27L164.16 554.34L165.12 555.32L166.08 556.23L167.04 557.06L168.00 557.82L168.96 558.53L169.92 559.18L170.88 559.78L171.84 560.33L172.80 560.84L173.76 561.31L174.72 561.74L175.68 562.13L176.64 562.50L177.60 562.83L178.56 563.14L179.52 563.43L180.48 563.69L181.44 563.93L182.40 564.16L183.36 564.36L184.32 564.55L185.28 564.72L186.24 564.88L187.20 565.03L188.16 565.17L189.12 565.29L190.08 565.41L191.04 565.51L192.00 565.61" stroke="#111" stroke-width="1.4" fill="none" stroke-dasharray="3.2 1.6"/>
<path d="M144.00 496.72L144.96 500.00L145.92 503.13L146.88 506.11L147.84 508.95L148.80 511.66L149.76 514.24L150.72 516.71L151.68 519.05L152.64 521.29L153.60 523.42L154.56 525.45L155.52 527.38L156.48 529.23L157.44 530.99L158.40 532.66L159.36 534.26L160.32 535.78L161.28 537.23L162.24 538.62L163.20 539.94L164.16 541.19L165.12 542.39L166.08 543.53L167.04 544.62L168.00 545.66L168.96 546.65L169.92 547.59L170.88 548.49L171.84 549.34L172.80 550.16L173.76 550.94L174.72 551.68L175.68 552.38L176.64 553.06L177.60 553.70L178.56 554.31L179.52 554.89L180.48 555.45L181.44 555.98L182.40 556.48L183.36 556.96L184.32 557.42L185.28 557.86L186.24 558.28L187.20 558.67L188.16 559.05L189.12 559.41L190.08 559.76L191.04 560.08L192.00 560.40" stroke="#222" stroke-width="1.5" fill="none" stroke-dasharray="1.1 1.3"/>
<path d="M144.00 496.72L144.96 500.16L145.92 503.44L146.88 506.55L147.84 509.51L148.80 512.32L149.76 515.00L150.72 517.54L151.68 519.96L152.64 522.26L153.60 524.44L154.56 526.52L155.52 528.50L156.48 530.38L157.44 532.17L158.40 533.87L159.36 535.48L160.32 537.02L161.28 538.48L162.24 539.87L163.20 541.19L164.16 542.45L165.12 543.64L166.08 544.78L167.04 545.86L168.00 546.89L168.96 547.86L169.92 548.79L170.88 549.67L171.84 550.51L172.80 551.31L173.76 552.07L174.72 552.79L175.68 553.48L176.64 554.13L177.60 554.75L178.56 555.34L179.52 555.90L180.48 556.43L181.44 556.94L182.40 557.42L183.36 557.88L184.32 558.32L185.28 558.73L186.24 559.13L187.20 559.50L188.16 559.86L189.12 560.20L190.08 560.52L191.04 560.82L192.00 561.12" stroke="#222" stroke-width="1.5" fill="none" stroke-dasharray="1.1 1.3"/>
<path d="M144.00 496.72L144.96 502.72L145.92 508.21L146.88 513.23L147.84 517.81L148.80 522.01L149.76 525.84L150.72 529.35L151.68 532.55L152.64 535.48L153.60 538.16L154.56 540.61L155.52 542.85L156.48 544.90L157.44 546.77L158.40 548.49L159.36 550.05L160.32 551.48L161.28 552.79L162.24 553.99L163.20 555.08L164.16 556.08L165.12 557.00L166.08 557.83L167.04 558.60L168.00 559.29L168.96 559.93L169.92 560.52L170.88 561.05L171.84 561.54L172.80 561.99L173.76 562.40L174.72 562.77L175.68 563.11L176.64 563.42L177.60 563.71L178.56 563.97L179.52 564.21L180.48 564.42L181.44 564.62L182.40 564.81L183.36 564.97L184.32 565.12L185.28 565.26L186.24 565.39L187.20 565.51L188.16 565.61L189.12 565.71L190.08 565.80L191.04 565.88L192.00 565.96" stroke="#222" stroke-width="1.5" fill="none" stroke-dasharray="1.1 1.3"/>
<line x1="144.00" y1="494.09" x2="144.00" y2="498.60" stroke="#000" stroke-width="0.9" />
<line x1="141.90" y1="494.09" x2="146.10" y2="494.09" stroke="#000" stroke-width="0.9" />
<line x1="141.90" y1="498.60" x2="146.10" y2="498.60" stroke="#000" stroke-width="0.9" />
<circle cx="144.00" cy="496.34" r="1.2" fill="#000"/>
<line x1="168.00" y1="529.11" x2="168.00" y2="534.84" stroke="#000" stroke-width="0.9" />
<line x1="165.90" y1="529.11" x2="170.10" y2="529.11" stroke="#000" stroke-width="0.9" />
<line x1="165.90" y1="534.84" x2="170.10" y2="534.84" stroke="#000" stroke-width="0.9" />
<circle cx="168.00" cy="531.97" r="1.2" fill="#000"/>
<line x1="180.00" y1="539.38" x2="180.00" y2="545.11" stroke="#000" stroke-width="0.9" />
<line x1="177.90" y1="539.38" x2="182.10" y2="539.38" stroke="#000" stroke-width="0.9" />
<line x1="177.90" y1="545.11" x2="182.10" y2="545.11" stroke="#000" stroke-width="0.9" />
<circle cx="180.00" cy="542.24" r="1.2" fill="#000"/>
<line x1="144.00" y1="494.09" x2="144.00" y2="498.60" stroke="#000" stroke-width="0.9" />
<line x1="141.90" y1="494.09" x2="146.10" y2="494.09" stroke="#000" stroke-width="0.9" />
<line x1="141.90" y1="498.60" x2="146.10" y2="498.60" stroke="#000" stroke-width="0.9" />
<circle cx="144.00" cy="496.34" r="1.2" fill="#6a6a6a"/>
<line x1="168.00" y1="547.52" x2="168.00" y2="551.44" stroke="#000" stroke-width="0.9" />
<line x1="165.90" y1="547.52" x2="170.10" y2="547.52" stroke="#000" stroke-width="0.9" />
<line x1="165.90" y1="551.44" x2="170.10" y2="551.44" stroke="#000" stroke-width="0.9" />
<circle cx="168.00" cy="549.48" r="1.2" fill="#6a6a6a"/>
<line x1="180.00" y1="556.22" x2="180.00" y2="560.13" stroke="#000" stroke-width="0.9" />
<line x1="177.90" y1="556.22" x2="182.10" y2="556.22" stroke="#000" stroke-width="0.9" />
<line x1="177.90" y1="560.13" x2="182.10" y2="560.13" stroke="#000" stroke-width="0.9" />
<circle cx="180.00" cy="558.17" r="1.2" fill="#6a6a6a"/>
<line x1="144.00" y1="494.09" x2="144.00" y2="498.60" stroke="#000" stroke-width="0.9" />
<line x1="141.90" y1="494.09" x2="146.10" y2="494.09" stroke="#000" stroke-width="0.9" />
<line x1="141.90" y1="498.60" x2="146.10" y2="498.60" stroke="#000" stroke-width="0.9" />
<circle cx="144.00" cy="496.34" r="1.1" fill="#fff" stroke="#000" stroke-width="0.7"/>
<line x1="168.00" y1="547.52" x2="168.00" y2="551.44" stroke="#000" stroke-width="0.9" />
<line x1="165.90" y1="547.52" x2="170.10" y2="547.52" stroke="#000" stroke-width="0.9" />
<line x1="165.90" y1="551.44" x2="170.10" y2="551.44" stroke="#000" stroke-width="0.9" />
<circle cx="168.00" cy="549.48" r="1.1" fill="#fff" stroke="#000" stroke-width="0.7"/>
<line x1="180.00" y1="556.22" x2="180.00" y2="560.13" stroke="#000" stroke-width="0.9" />
<line x1="177.90" y1="556.22" x2="182.10" y2="556.22" stroke="#000" stroke-width="0.9" />
<line x1="177.90" y1="560.13" x2="182.10" y2="560.13" stroke="#000" stroke-width="0.9" />
<circle cx="180.00" cy="558.17" r="1.1" fill="#fff" stroke="#000" stroke-width="0.7"/>
<line x1="144.00" y1="494.09" x2="144.00" y2="498.60" stroke="#000" stroke-width="0.9" />
<line x1="141.90" y1="494.09" x2="146.10" y2="494.09" stroke="#000" stroke-width="0.9" />
<line x1="141.90" y1="498.60" x2="146.10" y2="498.60" stroke="#000" stroke-width="0.9" />
<circle cx="144.00" cy="496.34" r="1.2" fill="#000"/>
<line x1="168.00" y1="557.03" x2="168.00" y2="560.95" stroke="#000" stroke-width="0.9" />
<line x1="165.90" y1="557.03" x2="170.10" y2="557.03" stroke="#000" stroke-width="0.9" />
<line x1="165.90" y1="560.95" x2="170.10" y2="560.95" stroke="#000" stroke-width="0.9" />
<circle cx="168.00" cy="558.99" r="1.2" fill="#000"/>
<line x1="180.00" y1="562.21" x2="180.00" y2="566.12" stroke="#000" stroke-width="0.9" />
<line x1="177.90" y1="562.21" x2="182.10" y2="562.21" stroke="#000" stroke-width="0.9" />
<line x1="177.90" y1="566.12" x2="182.10" y2="566.12" stroke="#000" stroke-width="0.9" />
<circle cx="180.00" cy="564.17" r="1.2" fill="#000"/>
<line x1="144.00" y1="494.09" x2="144.00" y2="498.60" stroke="#000" stroke-width="0.9" />
<line x1="141.90" y1="494.09" x2="146.10" y2="494.09" stroke="#000" stroke-width="0.9" />
<line x1="141.90" y1="498.60" x2="146.10" y2="498.60" stroke="#000" stroke-width="0.9" />
<circle cx="144.00" cy="496.34" r="1.2" fill="#6a6a6a"/>
<line x1="168.00" y1="556.22" x2="168.00" y2="560.13" stroke="#000" stroke-width="0.9" />
<line x1="165.90" y1="556.22" x2="170.10" y2="556.22" stroke="#000" stroke-width="0.9" />
<line x1="165.90" y1="560.13" x2="170.10" y2="560.13" stroke="#000" stroke-width="0.9" />
<circle cx="168.00" cy="558.17" r="1.2" fill="#6a6a6a"/>
<line x1="180.00" y1="561.79" x2="180.00" y2="565.71" stroke="#000" stroke-width="0.9" />
<line x1="177.90" y1="561.79" x2="182.10" y2="561.79" stroke="#000" stroke-width="0.9" />
<line x1="177.90" y1="565.71" x2="182.10" y2="565.71" stroke="#000" stroke-width="0.9" />
<circle cx="180.00" cy="563.75" r="1.2" fill="#6a6a6a"/>
<line x1="144.00" y1="494.09" x2="144.00" y2="498.60" stroke="#000" stroke-width="0.9" />
<line x1="141.90" y1="494.09" x2="146.10" y2="494.09" stroke="#000" stroke-width="0.9" />
<line x1="141.90" y1="498.60" x2="146.10" y2="498.60" stroke="#000" stroke-width="0.9" />
<circle cx="144.00" cy="496.34" r="1.1" fill="#fff" stroke="#000" stroke-width="0.7"/>
<line x1="168.00" y1="555.87" x2="168.00" y2="559.78" stroke="#000" stroke-width="0.9" />
<line x1="165.90" y1="555.87" x2="170.10" y2="555.87" stroke="#000" stroke-width="0.9" />
<line x1="165.90" y1="559.78" x2="170.10" y2="559.78" stroke="#000" stroke-width="0.9" />
<circle cx="168.00" cy="557.82" r="1.1" fill="#fff" stroke="#000" stroke-width="0.7"/>
<line x1="180.00" y1="561.61" x2="180.00" y2="565.52" stroke="#000" stroke-width="0.9" />
<line x1="177.90" y1="561.61" x2="182.10" y2="561.61" stroke="#000" stroke-width="0.9" />
<line x1="177.90" y1="565.52" x2="182.10" y2="565.52" stroke="#000" stroke-width="0.9" />
<circle cx="180.00" cy="563.56" r="1.1" fill="#fff" stroke="#000" stroke-width="0.7"/>
<line x1="144.00" y1="494.09" x2="144.00" y2="498.60" stroke="#000" stroke-width="0.9" />
<line x1="141.90" y1="494.09" x2="146.10" y2="494.09" stroke="#000" stroke-width="0.9" />
<line x1="141.90" y1="498.60" x2="146.10" y2="498.60" stroke="#000" stroke-width="0.9" />
<circle cx="144.00" cy="496.34" r="1.2" fill="#000"/>
<line x1="168.00" y1="543.70" x2="168.00" y2="547.62" stroke="#000" stroke-width="0.9" />
<line x1="165.90" y1="543.70" x2="170.10" y2="543.70" stroke="#000" stroke-width="0.9" />
<line x1="165.90" y1="547.62" x2="170.10" y2="547.62" stroke="#000" stroke-width="0.9" />
<circle cx="168.00" cy="545.66" r="1.2" fill="#000"/>
<line x1="180.00" y1="553.22" x2="180.00" y2="557.13" stroke="#000" stroke-width="0.9" />
<line x1="177.90" y1="553.22" x2="182.10" y2="553.22" stroke="#000" stroke-width="0.9" />
<line x1="177.90" y1="557.13" x2="182.10" y2="557.13" stroke="#000" stroke-width="0.9" />
<circle cx="180.00" cy="555.17" r="1.2" fill="#000"/>
<line x1="144.00" y1="494.09" x2="144.00" y2="498.60" stroke="#000" stroke-width="0.9" />
<line x1="141.90" y1="494.09" x2="146.10" y2="494.09" stroke="#000" stroke-width="0.9" />
<line x1="141.90" y1="498.60" x2="146.10" y2="498.60" stroke="#000" stroke-width="0.9" />
<circle cx="144.00" cy="496.34" r="1.2" fill="#6a6a6a"/>
<line x1="168.00" y1="544.93" x2="168.00" y2="548.84" stroke="#000" stroke-width="0.9" />
<line x1="165.90" y1="544.93" x2="170.10" y2="544.93" stroke="#000" stroke-width="0.9" />
<line x1="165.90" y1="548.84" x2="170.10" y2="548.84" stroke="#000" stroke-width="0.9" />
<circle cx="168.00" cy="546.89" r="1.2" fill="#6a6a6a"/>
<line x1="180.00" y1="554.21" x2="180.00" y2="558.13" stroke="#000" stroke-width="0.9" />
<line x1="177.90" y1="554.21" x2="182.10" y2="554.21" stroke="#000" stroke-width="0.9" />
<line x1="177.90" y1="558.13" x2="182.10" y2="558.13" stroke="#000" stroke-width="0.9" />
<circle cx="180.00" cy="556.17" r="1.2" fill="#6a6a6a"/>
<line x1="144.00" y1="494.09" x2="144.00" y2="498.60" stroke="#000" stroke-width="0.9" />
<line x1="141.90" y1="494.09" x2="146.10" y2="494.09" stroke="#000" stroke-width="0.9" />
<line x1="141.90" y1="498.60" x2="146.10" y2="498.60" stroke="#000" stroke-width="0.9" />
<circle cx="144.00" cy="496.34" r="1.1" fill="#fff" stroke="#000" stroke-width="0.7"/>
<line x1="168.00" y1="557.34" x2="168.00" y2="561.25" stroke="#000" stroke-width="0.9" />
<line x1="165.90" y1="557.34" x2="170.10" y2="557.34" stroke="#000" stroke-width="0.9" />
<line x1="165.90" y1="561.25" x2="170.10" y2="561.25" stroke="#000" stroke-width="0.9" />
<circle cx="168.00" cy="559.29" r="1.1" fill="#fff" stroke="#000" stroke-width="0.7"/>
<line x1="180.00" y1="562.36" x2="180.00" y2="566.28" stroke="#000" stroke-width="0.9" />
<line x1="177.90" y1="562.36" x2="182.10" y2="562.36" stroke="#000" stroke-width="0.9" />
<line x1="177.90" y1="566.28" x2="182.10" y2="566.28" stroke="#000" stroke-width="0.9" />
<circle cx="180.00" cy="564.32" r="1.1" fill="#fff" stroke="#000" stroke-width="0.7"/>
<circle cx="184.0" cy="452.6" r="2.0" fill="#000"/>
<circle cx="184.0" cy="463.3" r="2.0" fill="#6a6a6a"/>
<circle cx="184.0" cy="472.7" r="1.75" fill="#fff" stroke="#000" stroke-width="1.1"/>
<line x1="179.00" y1="483.30" x2="187.60" y2="483.30" stroke="#000" stroke-width="1.5" />
<line x1="179.00" y1="494.70" x2="187.80" y2="494.70" stroke="#000" stroke-width="1.5" stroke-dasharray="3.4 1.8"/>
<line x1="179.00" y1="506.00" x2="187.60" y2="506.00" stroke="#000" stroke-width="1.5" stroke-dasharray="1.3 1.7"/>
<text x="191.00" y="454.80" font-size="7.3" textLength="15.2" lengthAdjust="spacingAndGlyphs" >CNV</text>
<text x="191.00" y="465.60" font-size="7.3" textLength="15.6" lengthAdjust="spacingAndGlyphs" >NEO</text>
<text x="191.00" y="475.40" font-size="7.3" textLength="25.0" lengthAdjust="spacingAndGlyphs" ><tspan font-style="italic">Nod1</tspan><tspan font-size="4.53" baseline-shift="3.07">–/–</tspan></text>
<text x="191.00" y="486.40" font-size="7.3" textLength="23.6" lengthAdjust="spacingAndGlyphs" >Isotype</text>
<text x="191.00" y="497.20" font-size="7.3" textLength="28.8" lengthAdjust="spacingAndGlyphs" >α-IL-17A</text>
<text x="191.00" y="508.20" font-size="7.3" textLength="28.8" lengthAdjust="spacingAndGlyphs" >α-IL-17A</text>
<text x="192.30" y="518.00" font-size="7.3" textLength="27.4" lengthAdjust="spacingAndGlyphs" >+ Ligand</text>
</svg>
</body></html>
